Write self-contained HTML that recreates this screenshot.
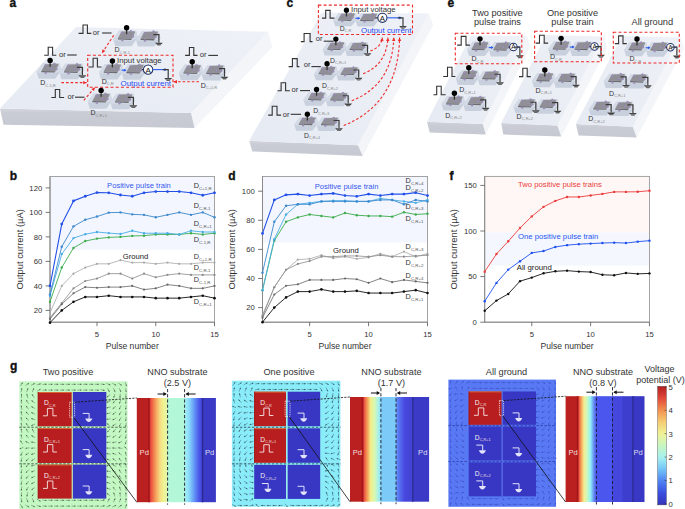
<!DOCTYPE html>
<html><head><meta charset="utf-8"><style>
html,body{margin:0;padding:0;background:#fff;}
body{width:685px;height:509px;overflow:hidden;}
svg{display:block;font-family:"Liberation Sans", sans-serif;}
</style></head><body>
<svg width="685" height="509" viewBox="0 0 685 509">
<rect x="50" y="176.5" width="164.5" height="73.26" fill="#f3f6fe"/>
<rect x="50" y="176.5" width="164.5" height="145.7" fill="none" stroke="#9a9a9a" stroke-width="0.9"/>
<line x1="50" y1="176.5" x2="50" y2="322.2" stroke="#8a8a8a" stroke-width="1"/>
<line x1="50" y1="322.2" x2="214.5" y2="322.2" stroke="#8a8a8a" stroke-width="1"/>
<line x1="45.6" y1="310.4" x2="50" y2="310.4" stroke="#555" stroke-width="0.8"/>
<text x="42.2" y="313.15" font-size="7.7" fill="#333" text-anchor="end">20</text>
<line x1="45.6" y1="285.9" x2="50" y2="285.9" stroke="#555" stroke-width="0.8"/>
<text x="42.2" y="288.65" font-size="7.7" fill="#333" text-anchor="end">40</text>
<line x1="45.6" y1="261.4" x2="50" y2="261.4" stroke="#555" stroke-width="0.8"/>
<text x="42.2" y="264.15" font-size="7.7" fill="#333" text-anchor="end">60</text>
<line x1="45.6" y1="236.9" x2="50" y2="236.9" stroke="#555" stroke-width="0.8"/>
<text x="42.2" y="239.65" font-size="7.7" fill="#333" text-anchor="end">80</text>
<line x1="45.6" y1="212.4" x2="50" y2="212.4" stroke="#555" stroke-width="0.8"/>
<text x="42.2" y="215.15" font-size="7.7" fill="#333" text-anchor="end">100</text>
<line x1="45.6" y1="187.9" x2="50" y2="187.9" stroke="#555" stroke-width="0.8"/>
<text x="42.2" y="190.65" font-size="7.7" fill="#333" text-anchor="end">120</text>
<line x1="97" y1="322.2" x2="97" y2="326.2" stroke="#555" stroke-width="0.8"/>
<text x="97" y="337.2" font-size="7.7" fill="#333" text-anchor="middle">5</text>
<line x1="155.75" y1="322.2" x2="155.75" y2="326.2" stroke="#555" stroke-width="0.8"/>
<text x="155.75" y="337.2" font-size="7.7" fill="#333" text-anchor="middle">10</text>
<line x1="214.5" y1="322.2" x2="214.5" y2="326.2" stroke="#555" stroke-width="0.8"/>
<text x="214.5" y="337.2" font-size="7.7" fill="#333" text-anchor="middle">15</text>
<polyline points="50,312.85 61.75,285.9 73.5,273.65 85.25,267.53 97,263.85 108.75,263.85 120.5,260.18 132.25,262.62 144,262.62 155.75,263.85 167.5,262.62 179.25,263.85 191,263.85 202.75,262.62 214.5,262.62" fill="none" stroke="#a8a8a8" stroke-width="0.8" stroke-linejoin="round"/>
<circle cx="50" cy="312.85" r="1.1" fill="#a8a8a8"/>
<circle cx="61.75" cy="285.9" r="1.1" fill="#a8a8a8"/>
<circle cx="73.5" cy="273.65" r="1.1" fill="#a8a8a8"/>
<circle cx="85.25" cy="267.53" r="1.1" fill="#a8a8a8"/>
<circle cx="97" cy="263.85" r="1.1" fill="#a8a8a8"/>
<circle cx="108.75" cy="263.85" r="1.1" fill="#a8a8a8"/>
<circle cx="120.5" cy="260.18" r="1.1" fill="#a8a8a8"/>
<circle cx="132.25" cy="262.62" r="1.1" fill="#a8a8a8"/>
<circle cx="144" cy="262.62" r="1.1" fill="#a8a8a8"/>
<circle cx="155.75" cy="263.85" r="1.1" fill="#a8a8a8"/>
<circle cx="167.5" cy="262.62" r="1.1" fill="#a8a8a8"/>
<circle cx="179.25" cy="263.85" r="1.1" fill="#a8a8a8"/>
<circle cx="191" cy="263.85" r="1.1" fill="#a8a8a8"/>
<circle cx="202.75" cy="262.62" r="1.1" fill="#a8a8a8"/>
<circle cx="214.5" cy="262.62" r="1.1" fill="#a8a8a8"/>
<polyline points="50,317.75 61.75,303.05 73.5,288.35 85.25,281 97,278.55 108.75,273.65 120.5,273.65 132.25,278.55 144,273.65 155.75,277.33 167.5,274.88 179.25,273.65 191,274.88 202.75,274.88 214.5,274.88" fill="none" stroke="#8a8a8a" stroke-width="0.8" stroke-linejoin="round"/>
<circle cx="50" cy="317.75" r="1.1" fill="#8a8a8a"/>
<circle cx="61.75" cy="303.05" r="1.1" fill="#8a8a8a"/>
<circle cx="73.5" cy="288.35" r="1.1" fill="#8a8a8a"/>
<circle cx="85.25" cy="281" r="1.1" fill="#8a8a8a"/>
<circle cx="97" cy="278.55" r="1.1" fill="#8a8a8a"/>
<circle cx="108.75" cy="273.65" r="1.1" fill="#8a8a8a"/>
<circle cx="120.5" cy="273.65" r="1.1" fill="#8a8a8a"/>
<circle cx="132.25" cy="278.55" r="1.1" fill="#8a8a8a"/>
<circle cx="144" cy="273.65" r="1.1" fill="#8a8a8a"/>
<circle cx="155.75" cy="277.33" r="1.1" fill="#8a8a8a"/>
<circle cx="167.5" cy="274.88" r="1.1" fill="#8a8a8a"/>
<circle cx="179.25" cy="273.65" r="1.1" fill="#8a8a8a"/>
<circle cx="191" cy="274.88" r="1.1" fill="#8a8a8a"/>
<circle cx="202.75" cy="274.88" r="1.1" fill="#8a8a8a"/>
<circle cx="214.5" cy="274.88" r="1.1" fill="#8a8a8a"/>
<polyline points="50,318.98 61.75,304.27 73.5,293.25 85.25,287.12 97,287.74 108.75,287.12 120.5,287.12 132.25,285.9 144,289.58 155.75,288.35 167.5,284.68 179.25,285.9 191,288.35 202.75,288.35 214.5,285.9" fill="none" stroke="#666" stroke-width="0.8" stroke-linejoin="round"/>
<circle cx="50" cy="318.98" r="1.1" fill="#666"/>
<circle cx="61.75" cy="304.27" r="1.1" fill="#666"/>
<circle cx="73.5" cy="293.25" r="1.1" fill="#666"/>
<circle cx="85.25" cy="287.12" r="1.1" fill="#666"/>
<circle cx="97" cy="287.74" r="1.1" fill="#666"/>
<circle cx="108.75" cy="287.12" r="1.1" fill="#666"/>
<circle cx="120.5" cy="287.12" r="1.1" fill="#666"/>
<circle cx="132.25" cy="285.9" r="1.1" fill="#666"/>
<circle cx="144" cy="289.58" r="1.1" fill="#666"/>
<circle cx="155.75" cy="288.35" r="1.1" fill="#666"/>
<circle cx="167.5" cy="284.68" r="1.1" fill="#666"/>
<circle cx="179.25" cy="285.9" r="1.1" fill="#666"/>
<circle cx="191" cy="288.35" r="1.1" fill="#666"/>
<circle cx="202.75" cy="288.35" r="1.1" fill="#666"/>
<circle cx="214.5" cy="285.9" r="1.1" fill="#666"/>
<polyline points="50,322.65 61.75,310.4 73.5,301.83 85.25,296.93 97,296.93 108.75,295.7 120.5,296.93 132.25,296.93 144,296.93 155.75,298.15 167.5,298.15 179.25,298.15 191,296.93 202.75,295.7 214.5,298.15" fill="none" stroke="#111" stroke-width="0.9" stroke-linejoin="round"/>
<circle cx="50" cy="322.65" r="1.3" fill="#111"/>
<circle cx="61.75" cy="310.4" r="1.3" fill="#111"/>
<circle cx="73.5" cy="301.83" r="1.3" fill="#111"/>
<circle cx="85.25" cy="296.93" r="1.3" fill="#111"/>
<circle cx="97" cy="296.93" r="1.3" fill="#111"/>
<circle cx="108.75" cy="295.7" r="1.3" fill="#111"/>
<circle cx="120.5" cy="296.93" r="1.3" fill="#111"/>
<circle cx="132.25" cy="296.93" r="1.3" fill="#111"/>
<circle cx="144" cy="296.93" r="1.3" fill="#111"/>
<circle cx="155.75" cy="298.15" r="1.3" fill="#111"/>
<circle cx="167.5" cy="298.15" r="1.3" fill="#111"/>
<circle cx="179.25" cy="298.15" r="1.3" fill="#111"/>
<circle cx="191" cy="296.93" r="1.3" fill="#111"/>
<circle cx="202.75" cy="295.7" r="1.3" fill="#111"/>
<circle cx="214.5" cy="298.15" r="1.3" fill="#111"/>
<polyline points="50,301.83 61.75,267.53 73.5,247.93 85.25,241.07 97,238.62 108.75,237.39 120.5,236.9 132.25,235.92 144,235.68 155.75,234.45 167.5,234.45 179.25,234.45 191,233.23 202.75,234.45 214.5,233.23" fill="none" stroke="#3cab4c" stroke-width="0.9" stroke-linejoin="round"/>
<circle cx="50" cy="301.83" r="1.2" fill="#3cab4c"/>
<circle cx="61.75" cy="267.53" r="1.2" fill="#3cab4c"/>
<circle cx="73.5" cy="247.93" r="1.2" fill="#3cab4c"/>
<circle cx="85.25" cy="241.07" r="1.2" fill="#3cab4c"/>
<circle cx="97" cy="238.62" r="1.2" fill="#3cab4c"/>
<circle cx="108.75" cy="237.39" r="1.2" fill="#3cab4c"/>
<circle cx="120.5" cy="236.9" r="1.2" fill="#3cab4c"/>
<circle cx="132.25" cy="235.92" r="1.2" fill="#3cab4c"/>
<circle cx="144" cy="235.68" r="1.2" fill="#3cab4c"/>
<circle cx="155.75" cy="234.45" r="1.2" fill="#3cab4c"/>
<circle cx="167.5" cy="234.45" r="1.2" fill="#3cab4c"/>
<circle cx="179.25" cy="234.45" r="1.2" fill="#3cab4c"/>
<circle cx="191" cy="233.23" r="1.2" fill="#3cab4c"/>
<circle cx="202.75" cy="234.45" r="1.2" fill="#3cab4c"/>
<circle cx="214.5" cy="233.23" r="1.2" fill="#3cab4c"/>
<polyline points="50,295.7 61.75,254.05 73.5,238.12 85.25,234.21 97,232 108.75,233.1 120.5,233.96 132.25,230.78 144,233.23 155.75,233.23 167.5,233.23 179.25,234.45 191,230.78 202.75,232 214.5,232" fill="none" stroke="#4aaee6" stroke-width="0.9" stroke-linejoin="round"/>
<circle cx="50" cy="295.7" r="1.2" fill="#4aaee6"/>
<circle cx="61.75" cy="254.05" r="1.2" fill="#4aaee6"/>
<circle cx="73.5" cy="238.12" r="1.2" fill="#4aaee6"/>
<circle cx="85.25" cy="234.21" r="1.2" fill="#4aaee6"/>
<circle cx="97" cy="232" r="1.2" fill="#4aaee6"/>
<circle cx="108.75" cy="233.1" r="1.2" fill="#4aaee6"/>
<circle cx="120.5" cy="233.96" r="1.2" fill="#4aaee6"/>
<circle cx="132.25" cy="230.78" r="1.2" fill="#4aaee6"/>
<circle cx="144" cy="233.23" r="1.2" fill="#4aaee6"/>
<circle cx="155.75" cy="233.23" r="1.2" fill="#4aaee6"/>
<circle cx="167.5" cy="233.23" r="1.2" fill="#4aaee6"/>
<circle cx="179.25" cy="234.45" r="1.2" fill="#4aaee6"/>
<circle cx="191" cy="230.78" r="1.2" fill="#4aaee6"/>
<circle cx="202.75" cy="232" r="1.2" fill="#4aaee6"/>
<circle cx="214.5" cy="232" r="1.2" fill="#4aaee6"/>
<polyline points="50,294.48 61.75,246.7 73.5,226.37 85.25,219.75 97,216.57 108.75,212.65 120.5,212.4 132.25,214.36 144,214.85 155.75,217.3 167.5,214.85 179.25,212.4 191,214.85 202.75,212.4 214.5,217.3" fill="none" stroke="#3b88cc" stroke-width="0.9" stroke-linejoin="round"/>
<circle cx="50" cy="294.48" r="1.2" fill="#3b88cc"/>
<circle cx="61.75" cy="246.7" r="1.2" fill="#3b88cc"/>
<circle cx="73.5" cy="226.37" r="1.2" fill="#3b88cc"/>
<circle cx="85.25" cy="219.75" r="1.2" fill="#3b88cc"/>
<circle cx="97" cy="216.57" r="1.2" fill="#3b88cc"/>
<circle cx="108.75" cy="212.65" r="1.2" fill="#3b88cc"/>
<circle cx="120.5" cy="212.4" r="1.2" fill="#3b88cc"/>
<circle cx="132.25" cy="214.36" r="1.2" fill="#3b88cc"/>
<circle cx="144" cy="214.85" r="1.2" fill="#3b88cc"/>
<circle cx="155.75" cy="217.3" r="1.2" fill="#3b88cc"/>
<circle cx="167.5" cy="214.85" r="1.2" fill="#3b88cc"/>
<circle cx="179.25" cy="212.4" r="1.2" fill="#3b88cc"/>
<circle cx="191" cy="214.85" r="1.2" fill="#3b88cc"/>
<circle cx="202.75" cy="212.4" r="1.2" fill="#3b88cc"/>
<circle cx="214.5" cy="217.3" r="1.2" fill="#3b88cc"/>
<polyline points="50,285.9 61.75,224.04 73.5,200.88 85.25,196.23 97,192.56 108.75,192.8 120.5,195 132.25,196.23 144,192.8 155.75,191.57 167.5,191.57 179.25,191.57 191,192.8 202.75,195.25 214.5,192.8" fill="none" stroke="#2250e8" stroke-width="1.1" stroke-linejoin="round"/>
<circle cx="50" cy="285.9" r="1.4" fill="#2250e8"/>
<circle cx="61.75" cy="224.04" r="1.4" fill="#2250e8"/>
<circle cx="73.5" cy="200.88" r="1.4" fill="#2250e8"/>
<circle cx="85.25" cy="196.23" r="1.4" fill="#2250e8"/>
<circle cx="97" cy="192.56" r="1.4" fill="#2250e8"/>
<circle cx="108.75" cy="192.8" r="1.4" fill="#2250e8"/>
<circle cx="120.5" cy="195" r="1.4" fill="#2250e8"/>
<circle cx="132.25" cy="196.23" r="1.4" fill="#2250e8"/>
<circle cx="144" cy="192.8" r="1.4" fill="#2250e8"/>
<circle cx="155.75" cy="191.57" r="1.4" fill="#2250e8"/>
<circle cx="167.5" cy="191.57" r="1.4" fill="#2250e8"/>
<circle cx="179.25" cy="191.57" r="1.4" fill="#2250e8"/>
<circle cx="191" cy="192.8" r="1.4" fill="#2250e8"/>
<circle cx="202.75" cy="195.25" r="1.4" fill="#2250e8"/>
<circle cx="214.5" cy="192.8" r="1.4" fill="#2250e8"/>
<text x="132.25" y="349" font-size="8.6" fill="#333" text-anchor="middle">Pulse number</text>
<text transform="translate(22.6,249.35) rotate(-90)" x="0" y="0" font-size="9.4" fill="#333" text-anchor="middle">Output current (µA)</text>
<rect x="262.5" y="176.5" width="165" height="66.06" fill="#f3f6fe"/>
<rect x="262.5" y="176.5" width="165" height="145.7" fill="none" stroke="#9a9a9a" stroke-width="0.9"/>
<line x1="262.5" y1="176.5" x2="262.5" y2="322.2" stroke="#8a8a8a" stroke-width="1"/>
<line x1="262.5" y1="322.2" x2="427.5" y2="322.2" stroke="#8a8a8a" stroke-width="1"/>
<line x1="258.1" y1="307.6" x2="262.5" y2="307.6" stroke="#555" stroke-width="0.8"/>
<text x="254.7" y="310.35" font-size="7.7" fill="#333" text-anchor="end">20</text>
<line x1="258.1" y1="278.5" x2="262.5" y2="278.5" stroke="#555" stroke-width="0.8"/>
<text x="254.7" y="281.25" font-size="7.7" fill="#333" text-anchor="end">40</text>
<line x1="258.1" y1="249.4" x2="262.5" y2="249.4" stroke="#555" stroke-width="0.8"/>
<text x="254.7" y="252.15" font-size="7.7" fill="#333" text-anchor="end">60</text>
<line x1="258.1" y1="220.3" x2="262.5" y2="220.3" stroke="#555" stroke-width="0.8"/>
<text x="254.7" y="223.05" font-size="7.7" fill="#333" text-anchor="end">80</text>
<line x1="258.1" y1="191.2" x2="262.5" y2="191.2" stroke="#555" stroke-width="0.8"/>
<text x="254.7" y="193.95" font-size="7.7" fill="#333" text-anchor="end">100</text>
<line x1="309.64" y1="322.2" x2="309.64" y2="326.2" stroke="#555" stroke-width="0.8"/>
<text x="309.64" y="337.2" font-size="7.7" fill="#333" text-anchor="middle">5</text>
<line x1="368.57" y1="322.2" x2="368.57" y2="326.2" stroke="#555" stroke-width="0.8"/>
<text x="368.57" y="337.2" font-size="7.7" fill="#333" text-anchor="middle">10</text>
<line x1="427.5" y1="322.2" x2="427.5" y2="326.2" stroke="#555" stroke-width="0.8"/>
<text x="427.5" y="337.2" font-size="7.7" fill="#333" text-anchor="middle">15</text>
<polyline points="262.5,314.88 274.29,287.23 286.07,269.77 297.86,259.58 309.64,258.86 321.43,255.22 333.22,258.13 345,256.68 356.79,258.86 368.57,257.4 380.36,253.76 392.15,256.68 403.93,251.58 415.72,256.68 427.5,253.76" fill="none" stroke="#a8a8a8" stroke-width="0.8" stroke-linejoin="round"/>
<circle cx="262.5" cy="314.88" r="1.1" fill="#a8a8a8"/>
<circle cx="274.29" cy="287.23" r="1.1" fill="#a8a8a8"/>
<circle cx="286.07" cy="269.77" r="1.1" fill="#a8a8a8"/>
<circle cx="297.86" cy="259.58" r="1.1" fill="#a8a8a8"/>
<circle cx="309.64" cy="258.86" r="1.1" fill="#a8a8a8"/>
<circle cx="321.43" cy="255.22" r="1.1" fill="#a8a8a8"/>
<circle cx="333.22" cy="258.13" r="1.1" fill="#a8a8a8"/>
<circle cx="345" cy="256.68" r="1.1" fill="#a8a8a8"/>
<circle cx="356.79" cy="258.86" r="1.1" fill="#a8a8a8"/>
<circle cx="368.57" cy="257.4" r="1.1" fill="#a8a8a8"/>
<circle cx="380.36" cy="253.76" r="1.1" fill="#a8a8a8"/>
<circle cx="392.15" cy="256.68" r="1.1" fill="#a8a8a8"/>
<circle cx="403.93" cy="251.58" r="1.1" fill="#a8a8a8"/>
<circle cx="415.72" cy="256.68" r="1.1" fill="#a8a8a8"/>
<circle cx="427.5" cy="253.76" r="1.1" fill="#a8a8a8"/>
<polyline points="262.5,316.33 274.29,287.23 286.07,269.77 297.86,263.95 309.64,261.04 321.43,256.68 333.22,256.68 345,255.95 356.79,255.95 368.57,256.68 380.36,255.22 392.15,256.68 403.93,256.68 415.72,255.95 427.5,255.22" fill="none" stroke="#8a8a8a" stroke-width="0.8" stroke-linejoin="round"/>
<circle cx="262.5" cy="316.33" r="1.1" fill="#8a8a8a"/>
<circle cx="274.29" cy="287.23" r="1.1" fill="#8a8a8a"/>
<circle cx="286.07" cy="269.77" r="1.1" fill="#8a8a8a"/>
<circle cx="297.86" cy="263.95" r="1.1" fill="#8a8a8a"/>
<circle cx="309.64" cy="261.04" r="1.1" fill="#8a8a8a"/>
<circle cx="321.43" cy="256.68" r="1.1" fill="#8a8a8a"/>
<circle cx="333.22" cy="256.68" r="1.1" fill="#8a8a8a"/>
<circle cx="345" cy="255.95" r="1.1" fill="#8a8a8a"/>
<circle cx="356.79" cy="255.95" r="1.1" fill="#8a8a8a"/>
<circle cx="368.57" cy="256.68" r="1.1" fill="#8a8a8a"/>
<circle cx="380.36" cy="255.22" r="1.1" fill="#8a8a8a"/>
<circle cx="392.15" cy="256.68" r="1.1" fill="#8a8a8a"/>
<circle cx="403.93" cy="256.68" r="1.1" fill="#8a8a8a"/>
<circle cx="415.72" cy="255.95" r="1.1" fill="#8a8a8a"/>
<circle cx="427.5" cy="255.22" r="1.1" fill="#8a8a8a"/>
<polyline points="262.5,317.78 274.29,294.5 286.07,285.77 297.86,284.32 309.64,279.95 321.43,279.95 333.22,279.95 345,278.5 356.79,279.23 368.57,282.87 380.36,278.5 392.15,282.14 403.93,279.95 415.72,281.41 427.5,282.87" fill="none" stroke="#666" stroke-width="0.8" stroke-linejoin="round"/>
<circle cx="262.5" cy="317.78" r="1.1" fill="#666"/>
<circle cx="274.29" cy="294.5" r="1.1" fill="#666"/>
<circle cx="286.07" cy="285.77" r="1.1" fill="#666"/>
<circle cx="297.86" cy="284.32" r="1.1" fill="#666"/>
<circle cx="309.64" cy="279.95" r="1.1" fill="#666"/>
<circle cx="321.43" cy="279.95" r="1.1" fill="#666"/>
<circle cx="333.22" cy="279.95" r="1.1" fill="#666"/>
<circle cx="345" cy="278.5" r="1.1" fill="#666"/>
<circle cx="356.79" cy="279.23" r="1.1" fill="#666"/>
<circle cx="368.57" cy="282.87" r="1.1" fill="#666"/>
<circle cx="380.36" cy="278.5" r="1.1" fill="#666"/>
<circle cx="392.15" cy="282.14" r="1.1" fill="#666"/>
<circle cx="403.93" cy="279.95" r="1.1" fill="#666"/>
<circle cx="415.72" cy="281.41" r="1.1" fill="#666"/>
<circle cx="427.5" cy="282.87" r="1.1" fill="#666"/>
<polyline points="262.5,322.15 274.29,307.6 286.07,297.41 297.86,291.6 309.64,291.6 321.43,289.41 333.22,291.6 345,291.6 356.79,290.87 368.57,293.05 380.36,293.05 392.15,293.05 403.93,291.6 415.72,290.14 427.5,293.05" fill="none" stroke="#111" stroke-width="0.9" stroke-linejoin="round"/>
<circle cx="262.5" cy="322.15" r="1.3" fill="#111"/>
<circle cx="274.29" cy="307.6" r="1.3" fill="#111"/>
<circle cx="286.07" cy="297.41" r="1.3" fill="#111"/>
<circle cx="297.86" cy="291.6" r="1.3" fill="#111"/>
<circle cx="309.64" cy="291.6" r="1.3" fill="#111"/>
<circle cx="321.43" cy="289.41" r="1.3" fill="#111"/>
<circle cx="333.22" cy="291.6" r="1.3" fill="#111"/>
<circle cx="345" cy="291.6" r="1.3" fill="#111"/>
<circle cx="356.79" cy="290.87" r="1.3" fill="#111"/>
<circle cx="368.57" cy="293.05" r="1.3" fill="#111"/>
<circle cx="380.36" cy="293.05" r="1.3" fill="#111"/>
<circle cx="392.15" cy="293.05" r="1.3" fill="#111"/>
<circle cx="403.93" cy="291.6" r="1.3" fill="#111"/>
<circle cx="415.72" cy="290.14" r="1.3" fill="#111"/>
<circle cx="427.5" cy="293.05" r="1.3" fill="#111"/>
<polyline points="262.5,290.14 274.29,240.67 286.07,221.75 297.86,217.39 309.64,214.48 321.43,215.94 333.22,217.39 345,213.02 356.79,215.21 368.57,215.94 380.36,215.94 392.15,216.66 403.93,212.3 415.72,214.48 427.5,213.75" fill="none" stroke="#3cab4c" stroke-width="0.9" stroke-linejoin="round"/>
<circle cx="262.5" cy="290.14" r="1.2" fill="#3cab4c"/>
<circle cx="274.29" cy="240.67" r="1.2" fill="#3cab4c"/>
<circle cx="286.07" cy="221.75" r="1.2" fill="#3cab4c"/>
<circle cx="297.86" cy="217.39" r="1.2" fill="#3cab4c"/>
<circle cx="309.64" cy="214.48" r="1.2" fill="#3cab4c"/>
<circle cx="321.43" cy="215.94" r="1.2" fill="#3cab4c"/>
<circle cx="333.22" cy="217.39" r="1.2" fill="#3cab4c"/>
<circle cx="345" cy="213.02" r="1.2" fill="#3cab4c"/>
<circle cx="356.79" cy="215.21" r="1.2" fill="#3cab4c"/>
<circle cx="368.57" cy="215.94" r="1.2" fill="#3cab4c"/>
<circle cx="380.36" cy="215.94" r="1.2" fill="#3cab4c"/>
<circle cx="392.15" cy="216.66" r="1.2" fill="#3cab4c"/>
<circle cx="403.93" cy="212.3" r="1.2" fill="#3cab4c"/>
<circle cx="415.72" cy="214.48" r="1.2" fill="#3cab4c"/>
<circle cx="427.5" cy="213.75" r="1.2" fill="#3cab4c"/>
<polyline points="262.5,290.14 274.29,239.21 286.07,214.48 297.86,204.29 309.64,202.84 321.43,201.38 333.22,200.66 345,200.66 356.79,201.38 368.57,201.38 380.36,198.47 392.15,199.93 403.93,201.38 415.72,202.84 427.5,199.93" fill="none" stroke="#4aaee6" stroke-width="0.9" stroke-linejoin="round"/>
<circle cx="262.5" cy="290.14" r="1.2" fill="#4aaee6"/>
<circle cx="274.29" cy="239.21" r="1.2" fill="#4aaee6"/>
<circle cx="286.07" cy="214.48" r="1.2" fill="#4aaee6"/>
<circle cx="297.86" cy="204.29" r="1.2" fill="#4aaee6"/>
<circle cx="309.64" cy="202.84" r="1.2" fill="#4aaee6"/>
<circle cx="321.43" cy="201.38" r="1.2" fill="#4aaee6"/>
<circle cx="333.22" cy="200.66" r="1.2" fill="#4aaee6"/>
<circle cx="345" cy="200.66" r="1.2" fill="#4aaee6"/>
<circle cx="356.79" cy="201.38" r="1.2" fill="#4aaee6"/>
<circle cx="368.57" cy="201.38" r="1.2" fill="#4aaee6"/>
<circle cx="380.36" cy="198.47" r="1.2" fill="#4aaee6"/>
<circle cx="392.15" cy="199.93" r="1.2" fill="#4aaee6"/>
<circle cx="403.93" cy="201.38" r="1.2" fill="#4aaee6"/>
<circle cx="415.72" cy="202.84" r="1.2" fill="#4aaee6"/>
<circle cx="427.5" cy="199.93" r="1.2" fill="#4aaee6"/>
<polyline points="262.5,272.68 274.29,221.75 286.07,205.75 297.86,204.29 309.64,204.29 321.43,201.38 333.22,201.38 345,201.38 356.79,201.38 368.57,201.38 380.36,199.93 392.15,199.93 403.93,204.29 415.72,199.93 427.5,201.38" fill="none" stroke="#3b88cc" stroke-width="0.9" stroke-linejoin="round"/>
<circle cx="262.5" cy="272.68" r="1.2" fill="#3b88cc"/>
<circle cx="274.29" cy="221.75" r="1.2" fill="#3b88cc"/>
<circle cx="286.07" cy="205.75" r="1.2" fill="#3b88cc"/>
<circle cx="297.86" cy="204.29" r="1.2" fill="#3b88cc"/>
<circle cx="309.64" cy="204.29" r="1.2" fill="#3b88cc"/>
<circle cx="321.43" cy="201.38" r="1.2" fill="#3b88cc"/>
<circle cx="333.22" cy="201.38" r="1.2" fill="#3b88cc"/>
<circle cx="345" cy="201.38" r="1.2" fill="#3b88cc"/>
<circle cx="356.79" cy="201.38" r="1.2" fill="#3b88cc"/>
<circle cx="368.57" cy="201.38" r="1.2" fill="#3b88cc"/>
<circle cx="380.36" cy="199.93" r="1.2" fill="#3b88cc"/>
<circle cx="392.15" cy="199.93" r="1.2" fill="#3b88cc"/>
<circle cx="403.93" cy="204.29" r="1.2" fill="#3b88cc"/>
<circle cx="415.72" cy="199.93" r="1.2" fill="#3b88cc"/>
<circle cx="427.5" cy="201.38" r="1.2" fill="#3b88cc"/>
<polyline points="262.5,233.39 274.29,199.93 286.07,194.84 297.86,194.11 309.64,195.56 321.43,194.11 333.22,193.38 345,195.56 356.79,196.29 368.57,194.11 380.36,195.56 392.15,194.11 403.93,194.11 415.72,192.66 427.5,195.56" fill="none" stroke="#2250e8" stroke-width="1.1" stroke-linejoin="round"/>
<circle cx="262.5" cy="233.39" r="1.4" fill="#2250e8"/>
<circle cx="274.29" cy="199.93" r="1.4" fill="#2250e8"/>
<circle cx="286.07" cy="194.84" r="1.4" fill="#2250e8"/>
<circle cx="297.86" cy="194.11" r="1.4" fill="#2250e8"/>
<circle cx="309.64" cy="195.56" r="1.4" fill="#2250e8"/>
<circle cx="321.43" cy="194.11" r="1.4" fill="#2250e8"/>
<circle cx="333.22" cy="193.38" r="1.4" fill="#2250e8"/>
<circle cx="345" cy="195.56" r="1.4" fill="#2250e8"/>
<circle cx="356.79" cy="196.29" r="1.4" fill="#2250e8"/>
<circle cx="368.57" cy="194.11" r="1.4" fill="#2250e8"/>
<circle cx="380.36" cy="195.56" r="1.4" fill="#2250e8"/>
<circle cx="392.15" cy="194.11" r="1.4" fill="#2250e8"/>
<circle cx="403.93" cy="194.11" r="1.4" fill="#2250e8"/>
<circle cx="415.72" cy="192.66" r="1.4" fill="#2250e8"/>
<circle cx="427.5" cy="195.56" r="1.4" fill="#2250e8"/>
<text x="345" y="349" font-size="8.6" fill="#333" text-anchor="middle">Pulse number</text>
<text transform="translate(235.4,249.35) rotate(-90)" x="0" y="0" font-size="9.4" fill="#333" text-anchor="middle">Output current (µA)</text>
<rect x="484.7" y="232.28" width="164.8" height="33.38" fill="#f4f7fe"/>
<rect x="484.7" y="176.4" width="164.8" height="55.88" fill="#fef7f6"/>
<rect x="484.7" y="176.4" width="164.8" height="145.8" fill="none" stroke="#9a9a9a" stroke-width="0.9"/>
<line x1="484.7" y1="176.4" x2="484.7" y2="322.2" stroke="#8a8a8a" stroke-width="1"/>
<line x1="484.7" y1="322.2" x2="649.5" y2="322.2" stroke="#8a8a8a" stroke-width="1"/>
<line x1="480.3" y1="322.2" x2="484.7" y2="322.2" stroke="#555" stroke-width="0.8"/>
<text x="476.9" y="324.95" font-size="7.7" fill="#333" text-anchor="end">0</text>
<line x1="480.3" y1="276.6" x2="484.7" y2="276.6" stroke="#555" stroke-width="0.8"/>
<text x="476.9" y="279.35" font-size="7.7" fill="#333" text-anchor="end">50</text>
<line x1="480.3" y1="231" x2="484.7" y2="231" stroke="#555" stroke-width="0.8"/>
<text x="476.9" y="233.75" font-size="7.7" fill="#333" text-anchor="end">100</text>
<line x1="480.3" y1="185.4" x2="484.7" y2="185.4" stroke="#555" stroke-width="0.8"/>
<text x="476.9" y="188.15" font-size="7.7" fill="#333" text-anchor="end">150</text>
<line x1="531.78" y1="322.2" x2="531.78" y2="326.2" stroke="#555" stroke-width="0.8"/>
<text x="531.78" y="337.2" font-size="7.7" fill="#333" text-anchor="middle">5</text>
<line x1="590.63" y1="322.2" x2="590.63" y2="326.2" stroke="#555" stroke-width="0.8"/>
<text x="590.63" y="337.2" font-size="7.7" fill="#333" text-anchor="middle">10</text>
<line x1="649.48" y1="322.2" x2="649.48" y2="326.2" stroke="#555" stroke-width="0.8"/>
<text x="649.48" y="337.2" font-size="7.7" fill="#333" text-anchor="middle">15</text>
<polyline points="484.7,310.8 496.47,300.59 508.24,293.93 520.01,281.16 531.78,277.6 543.55,273.32 555.32,271.31 567.09,270.67 578.86,271.58 590.63,272.04 602.4,274.78 614.17,275.23 625.94,272.95 637.71,273.86 649.48,273.41" fill="none" stroke="#111" stroke-width="0.9" stroke-linejoin="round"/>
<circle cx="484.7" cy="310.8" r="1.2" fill="#111"/>
<circle cx="496.47" cy="300.59" r="1.2" fill="#111"/>
<circle cx="508.24" cy="293.93" r="1.2" fill="#111"/>
<circle cx="520.01" cy="281.16" r="1.2" fill="#111"/>
<circle cx="531.78" cy="277.6" r="1.2" fill="#111"/>
<circle cx="543.55" cy="273.32" r="1.2" fill="#111"/>
<circle cx="555.32" cy="271.31" r="1.2" fill="#111"/>
<circle cx="567.09" cy="270.67" r="1.2" fill="#111"/>
<circle cx="578.86" cy="271.58" r="1.2" fill="#111"/>
<circle cx="590.63" cy="272.04" r="1.2" fill="#111"/>
<circle cx="602.4" cy="274.78" r="1.2" fill="#111"/>
<circle cx="614.17" cy="275.23" r="1.2" fill="#111"/>
<circle cx="625.94" cy="272.95" r="1.2" fill="#111"/>
<circle cx="637.71" cy="273.86" r="1.2" fill="#111"/>
<circle cx="649.48" cy="273.41" r="1.2" fill="#111"/>
<polyline points="484.7,301.22 496.47,282.89 508.24,269.67 520.01,261.28 531.78,252.89 543.55,251.06 555.32,246.96 567.09,245.14 578.86,244.13 590.63,243.59 602.4,243.04 614.17,242.67 625.94,243.04 637.71,241.67 649.48,240.67" fill="none" stroke="#1e4ff0" stroke-width="0.9" stroke-linejoin="round"/>
<circle cx="484.7" cy="301.22" r="1.2" fill="#1e4ff0"/>
<circle cx="496.47" cy="282.89" r="1.2" fill="#1e4ff0"/>
<circle cx="508.24" cy="269.67" r="1.2" fill="#1e4ff0"/>
<circle cx="520.01" cy="261.28" r="1.2" fill="#1e4ff0"/>
<circle cx="531.78" cy="252.89" r="1.2" fill="#1e4ff0"/>
<circle cx="543.55" cy="251.06" r="1.2" fill="#1e4ff0"/>
<circle cx="555.32" cy="246.96" r="1.2" fill="#1e4ff0"/>
<circle cx="567.09" cy="245.14" r="1.2" fill="#1e4ff0"/>
<circle cx="578.86" cy="244.13" r="1.2" fill="#1e4ff0"/>
<circle cx="590.63" cy="243.59" r="1.2" fill="#1e4ff0"/>
<circle cx="602.4" cy="243.04" r="1.2" fill="#1e4ff0"/>
<circle cx="614.17" cy="242.67" r="1.2" fill="#1e4ff0"/>
<circle cx="625.94" cy="243.04" r="1.2" fill="#1e4ff0"/>
<circle cx="637.71" cy="241.67" r="1.2" fill="#1e4ff0"/>
<circle cx="649.48" cy="240.67" r="1.2" fill="#1e4ff0"/>
<polyline points="484.7,271.68 496.47,253.98 508.24,241.31 520.01,227.99 531.78,216.41 543.55,206.83 555.32,200.9 567.09,196.98 578.86,196.98 590.63,195.43 602.4,193.88 614.17,191.88 625.94,191.88 637.71,191.78 649.48,190.69" fill="none" stroke="#ec3b3b" stroke-width="0.9" stroke-linejoin="round"/>
<circle cx="484.7" cy="271.68" r="1.2" fill="#ec3b3b"/>
<circle cx="496.47" cy="253.98" r="1.2" fill="#ec3b3b"/>
<circle cx="508.24" cy="241.31" r="1.2" fill="#ec3b3b"/>
<circle cx="520.01" cy="227.99" r="1.2" fill="#ec3b3b"/>
<circle cx="531.78" cy="216.41" r="1.2" fill="#ec3b3b"/>
<circle cx="543.55" cy="206.83" r="1.2" fill="#ec3b3b"/>
<circle cx="555.32" cy="200.9" r="1.2" fill="#ec3b3b"/>
<circle cx="567.09" cy="196.98" r="1.2" fill="#ec3b3b"/>
<circle cx="578.86" cy="196.98" r="1.2" fill="#ec3b3b"/>
<circle cx="590.63" cy="195.43" r="1.2" fill="#ec3b3b"/>
<circle cx="602.4" cy="193.88" r="1.2" fill="#ec3b3b"/>
<circle cx="614.17" cy="191.88" r="1.2" fill="#ec3b3b"/>
<circle cx="625.94" cy="191.88" r="1.2" fill="#ec3b3b"/>
<circle cx="637.71" cy="191.78" r="1.2" fill="#ec3b3b"/>
<circle cx="649.48" cy="190.69" r="1.2" fill="#ec3b3b"/>
<text x="567.1" y="349" font-size="8.6" fill="#333" text-anchor="middle">Pulse number</text>
<text transform="translate(456.5,249.3) rotate(-90)" x="0" y="0" font-size="9.4" fill="#333" text-anchor="middle">Output current (µA)</text>
<text x="107.1" y="188.3" font-size="7.6" fill="#3556ee">Positive pulse train</text>
<text x="122.7" y="259" font-size="7.7" fill="#222">Ground</text>
<text x="193.8" y="188.2" font-size="7.3" fill="#333">D<tspan font-size="4.4" dy="1.7" fill="#555">C+1,R</tspan></text>
<text x="193.8" y="208" font-size="7.3" fill="#333">D<tspan font-size="4.4" dy="1.7" fill="#555">C,R-1</tspan></text>
<text x="193.8" y="226.2" font-size="7.3" fill="#333">D<tspan font-size="4.4" dy="1.7" fill="#555">C,R+1</tspan></text>
<text x="193.8" y="242.2" font-size="7.3" fill="#333">D<tspan font-size="4.4" dy="1.7" fill="#555">C-1,R</tspan></text>
<text x="193.8" y="258.9" font-size="7.3" fill="#333">D<tspan font-size="4.4" dy="1.7" fill="#555">C+1,R</tspan></text>
<text x="193.8" y="270.3" font-size="7.3" fill="#333">D<tspan font-size="4.4" dy="1.7" fill="#555">C,R-1</tspan></text>
<text x="193.8" y="282" font-size="7.3" fill="#333">D<tspan font-size="4.4" dy="1.7" fill="#555">C-1,R</tspan></text>
<text x="193.8" y="303.9" font-size="7.3" fill="#333">D<tspan font-size="4.4" dy="1.7" fill="#555">C,R+1</tspan></text>
<text x="314.7" y="188.5" font-size="7.6" fill="#3556ee">Positive pulse train</text>
<text x="333.1" y="253" font-size="7.7" fill="#222">Ground</text>
<text x="405.6" y="182.9" font-size="7.3" fill="#333">D<tspan font-size="4.4" dy="1.7" fill="#555">C,R+4</tspan></text>
<text x="405.6" y="190" font-size="7.3" fill="#333">D<tspan font-size="4.4" dy="1.7" fill="#555">C,R+2</tspan></text>
<text x="405.6" y="208.7" font-size="7.3" fill="#333">D<tspan font-size="4.4" dy="1.7" fill="#555">C,R+3</tspan></text>
<text x="405.6" y="221.1" font-size="7.3" fill="#333">D<tspan font-size="4.4" dy="1.7" fill="#555">C,R+1</tspan></text>
<text x="405.6" y="249" font-size="7.3" fill="#333">D<tspan font-size="4.4" dy="1.7" fill="#555">C,R+3</tspan></text>
<text x="405.6" y="264.9" font-size="7.3" fill="#333">D<tspan font-size="4.4" dy="1.7" fill="#555">C,R+2</tspan></text>
<text x="405.6" y="278.4" font-size="7.3" fill="#333">D<tspan font-size="4.4" dy="1.7" fill="#555">C,R+4</tspan></text>
<text x="405.6" y="298.9" font-size="7.3" fill="#333">D<tspan font-size="4.4" dy="1.7" fill="#555">C,R+1</tspan></text>
<text x="518" y="186.6" font-size="7.7" fill="#ec3b3b">Two positive pulse trains</text>
<text x="518" y="239.2" font-size="7.7" fill="#2a55f0">One positive pulse train</text>
<text x="516.7" y="270.1" font-size="7.8" fill="#222">All ground</text>
<text x="9.8" y="179.8" font-size="12" font-weight="bold" fill="#111" stroke="#111" stroke-width="0.35">b</text>
<text x="228.3" y="180" font-size="12" font-weight="bold" fill="#111" stroke="#111" stroke-width="0.35">d</text>
<text x="449.6" y="179.7" font-size="12" font-weight="bold" fill="#111" stroke="#111" stroke-width="0.35">f</text>
<defs>
<linearGradient id="topg" x1="0" y1="1" x2="1" y2="0"><stop offset="0" stop-color="#e6eaf2"/><stop offset="1" stop-color="#eef1f7"/></linearGradient>
<linearGradient id="frontg" x1="0" y1="0" x2="0" y2="1"><stop offset="0" stop-color="#d2d5dc"/><stop offset="0.25" stop-color="#c9ccd4"/><stop offset="1" stop-color="#c6c9d1"/></linearGradient>
<g id="dev">
<polygon points="-5.9,8.3 0,0 17,0 18.6,7 12.6,15.4 -3.9,15.4" fill="#c8d0de"/>
<polygon points="-5.9,8.3 0,0 17,0 18.6,7 12.9,9.6 -5.2,9.6" fill="#d4dbe7"/>
<polygon points="-1.2,7.5 2.4,0.8 15.8,0.4 12.2,7.9" fill="#909096"/>
<polygon points="-1.2,7.5 12.2,7.9 12.2,9.2 -1.2,8.8" fill="#6c6c72"/>
<polygon points="12.2,7.9 15.8,0.4 15.8,1.7 12.2,9.2" fill="#78787e"/>
<g fill="#a293bd" stroke="#85789e" stroke-width="0.25">
<circle cx="3.2" cy="2.4" r="1.15"/><circle cx="11.8" cy="0.5" r="1.15"/><circle cx="9.1" cy="5.1" r="1.15"/>
<circle cx="13.8" cy="5.6" r="1.15"/><circle cx="3.2" cy="9.4" r="1.15"/></g>
</g>
<g id="gnd"><path d="M0,0 H5.5 V8" fill="none" stroke="#3a3a3a" stroke-width="1.2"/>
<path d="M1.6,8 H9.4 L8.2,9.4 H2.8 Z" fill="#454545"/><path d="M3,9.4 H8 L7,10.8 H4 Z" fill="#666"/></g>
<g id="pin"><line x1="0" y1="0" x2="0" y2="6.4" stroke="#333" stroke-width="1.3"/><circle cx="0" cy="0" r="2.7" fill="#000"/></g>
</defs>
<polygon points="191,113 268.3,31.8 272.5,47 194.5,128" fill="#f3f5f9"/>
<polygon points="0,108.5 191,113 194.5,128 3.5,124.7" fill="url(#frontg)"/>
<polygon points="0,108.5 191,113 268.3,31.8 76,27" fill="url(#topg)"/>
<polygon points="358,145.3 429,13.5 433.2,25 362.6,156" fill="#f3f5f9"/>
<polygon points="249.2,140.7 358,145.3 362.6,156 252.3,151.4" fill="url(#frontg)"/>
<polygon points="249.2,140.7 358,145.3 429,13.5 321.5,12.5" fill="url(#topg)"/>
<polygon points="482.7,124 527,36 530.5,46.5 485.8,134.5" fill="#f3f5f9"/>
<polygon points="427,121.7 482.7,124 485.8,134.5 429.7,132.6" fill="url(#frontg)"/>
<polygon points="427,121.7 482.7,124 527,36 471,35.5" fill="url(#topg)"/>
<polygon points="557.3,125.6 603.8,36.5 607.3,47.5 561.2,136.4" fill="#f3f5f9"/>
<polygon points="501.2,122.9 557.3,125.6 561.2,136.4 503.2,134.5" fill="url(#frontg)"/>
<polygon points="501.2,122.9 557.3,125.6 603.8,36.5 546,35" fill="url(#topg)"/>
<polygon points="632.8,126.8 680.5,37.5 684,48.5 636.6,137.6" fill="#f3f5f9"/>
<polygon points="575.9,124 632.8,126.8 636.6,137.6 578.6,135.6" fill="url(#frontg)"/>
<polygon points="575.9,124 632.8,126.8 680.5,37.5 622,36" fill="url(#topg)"/>
<text x="9.6" y="6.7" font-size="12" font-weight="bold" fill="#111" stroke="#111" stroke-width="0.35">a</text>
<use href="#dev" transform="translate(119.1,30.8) scale(1,1)"/><use href="#dev" transform="translate(141.8,31.2) scale(1,1)"/><use href="#pin" transform="translate(126.6,27.8) scale(1)"/><use href="#gnd" transform="translate(153.4,34.7) scale(1)"/>
<path d="M78.6,33.4 H83 V25 H87.4 V33.4 H91.3" fill="none" stroke="#333" stroke-width="1.1"/><text x="92.8" y="35.1" font-size="7.6" fill="#333">or</text><line x1="102.1" y1="33" x2="111.6" y2="33" stroke="#333" stroke-width="1.1"/>
<text x="114.5" y="52.43" font-size="7" fill="#333">D<tspan font-size="3.99" dy="1.4" fill="#8a8a8a">C,R-1</tspan></text>
<path d="M113.8,35.2 L102.1,53" fill="none" stroke="#ee2a2a" stroke-width="1.1" stroke-dasharray="2.6,2"/><path d="M102.1,53 L102.55,49.23 L105.39,51.09Z" fill="#ee2a2a"/>
<use href="#dev" transform="translate(42.6,63.4) scale(1,1)"/><use href="#dev" transform="translate(65.3,63.8) scale(1,1)"/><use href="#pin" transform="translate(50.1,60.4) scale(1)"/><use href="#gnd" transform="translate(76.9,67.3) scale(1)"/>
<path d="M44.2,55.3 H48.2 V47.3 H52.6 V55.3 H56.3" fill="none" stroke="#333" stroke-width="1.1"/><text x="59" y="57.1" font-size="7.6" fill="#333">or</text><line x1="67.2" y1="55" x2="76.7" y2="55" stroke="#333" stroke-width="1.1"/>
<text x="40.2" y="85.13" font-size="7" fill="#333">D<tspan font-size="3.99" dy="1.4" fill="#8a8a8a">C-1,R</tspan></text>
<path d="M61.4,82.6 L86.6,82.6" fill="none" stroke="#ee2a2a" stroke-width="1.1" stroke-dasharray="2.6,2"/><path d="M86.6,82.6 L83.2,84.3 L83.2,80.9Z" fill="#ee2a2a"/>
<use href="#dev" transform="translate(104.9,64) scale(1,1)"/><use href="#dev" transform="translate(127.6,64.4) scale(1,1)"/><use href="#pin" transform="translate(112.4,61) scale(1)"/><path d="M121.5,70.2 H125.5" stroke="#2a5cf0" stroke-width="1.1"/><path d="M126.5,70.2 l-2.6,-1.5 v3z" fill="#2a5cf0"/><circle cx="148.1" cy="69.6" r="4.7" fill="#fff" stroke="#1f2f66" stroke-width="1.05"/><text x="148.1" y="72.5" font-size="8" text-anchor="middle" fill="#111">A</text><line x1="141.9" y1="69.6" x2="143.4" y2="69.6" stroke="#333" stroke-width="1.1"/><path d="M152.8,69.6 H165.7" stroke="#2a5cf0" stroke-width="1.1"/><path d="M167.2,69.6 l-2.8,-1.6 v3.2z" fill="#2a5cf0"/><use href="#gnd" transform="translate(162.7,69.6) scale(1,1.05)"/>
<path d="M88.4,67 H93.1 V58.2 H97.4 V67 H101.5" fill="none" stroke="#333" stroke-width="1.1"/>
<text x="117" y="62.7" font-size="7.8" fill="#333">Input voltage</text>
<text x="120.6" y="85.7" font-size="7.9" fill="#2a4cf0">Output current</text>
<text x="101.8" y="83.63" font-size="7" fill="#333">D<tspan font-size="3.99" dy="1.4" fill="#8a8a8a">C,R</tspan></text>
<rect x="87.7" y="55.3" width="85.3" height="32" fill="none" stroke="#ee2a2a" stroke-width="1.1" stroke-dasharray="3,2.2"/>
<use href="#dev" transform="translate(184.7,64.8) scale(1,1)"/><use href="#dev" transform="translate(207.4,65.2) scale(1,1)"/><use href="#pin" transform="translate(192.2,61.8) scale(1)"/><use href="#gnd" transform="translate(219,68.7) scale(1)"/>
<path d="M185.1,55.4 H189.4 V47.5 H193.8 V55.4 H197.5" fill="none" stroke="#333" stroke-width="1.1"/><text x="199.8" y="57.3" font-size="7.6" fill="#333">or</text><line x1="208.3" y1="55.4" x2="218" y2="55.4" stroke="#333" stroke-width="1.1"/>
<text x="200.7" y="87.63" font-size="7" fill="#333">D<tspan font-size="3.99" dy="1.4" fill="#8a8a8a">C+1,R</tspan></text>
<path d="M199,81.8 L173.6,81.8" fill="none" stroke="#ee2a2a" stroke-width="1.1" stroke-dasharray="2.6,2"/><path d="M173.6,81.8 L177,80.1 L177,83.5Z" fill="#ee2a2a"/>
<use href="#dev" transform="translate(93.6,93.4) scale(1,1)"/><use href="#dev" transform="translate(116.3,93.8) scale(1,1)"/><use href="#pin" transform="translate(101.1,90.4) scale(1)"/><use href="#gnd" transform="translate(127.9,97.3) scale(1)"/>
<path d="M51.4,97.5 H55.3 V89.5 H59.7 V97.5 H64.1" fill="none" stroke="#333" stroke-width="1.1"/><text x="67.5" y="98.5" font-size="7.6" fill="#333">or</text><line x1="75" y1="97.2" x2="84.5" y2="97.2" stroke="#333" stroke-width="1.1"/>
<text x="90.4" y="115.33" font-size="7" fill="#333">D<tspan font-size="3.99" dy="1.4" fill="#8a8a8a">C,R+1</tspan></text>
<path d="M83.8,100.4 L94.9,87.4" fill="none" stroke="#ee2a2a" stroke-width="1.1" stroke-dasharray="2.6,2"/><path d="M94.9,87.4 L93.99,91.09 L91.4,88.88Z" fill="#ee2a2a"/>
<text x="286.6" y="6.5" font-size="12" font-weight="bold" fill="#111" stroke="#111" stroke-width="0.35">c</text>
<use href="#dev" transform="translate(339.1,13) scale(0.98,0.86)"/><use href="#dev" transform="translate(361.35,13.34) scale(0.98,0.86)"/><use href="#pin" transform="translate(346.45,10.13) scale(0.97)"/><path d="M355.37,18.33 H359.27" stroke="#2a5cf0" stroke-width="1.1"/><path d="M360.27,18.33 l-2.6,-1.5 v3z" fill="#2a5cf0"/><circle cx="382.42" cy="17.82" r="4.56" fill="#fff" stroke="#1f2f66" stroke-width="1.05"/><text x="382.42" y="20.63" font-size="7.76" text-anchor="middle" fill="#111">A</text><line x1="375.36" y1="17.82" x2="377.86" y2="17.82" stroke="#333" stroke-width="1.1"/><path d="M386.98,17.82 H400.5" stroke="#2a5cf0" stroke-width="1.1"/><path d="M402,17.82 l-2.8,-1.6 v3.2z" fill="#2a5cf0"/><use href="#gnd" transform="translate(397.66,17.82) scale(0.97,1.02)"/>
<path d="M322,18.1 H325.7 V10.4 H330.1 V18.1 H334.4" fill="none" stroke="#333" stroke-width="1.1"/>
<text x="351" y="12.2" font-size="7.8" fill="#333">Input voltage</text>
<text x="361" y="32.7" font-size="7.9" fill="#2a4cf0">Output current</text>
<text x="339.7" y="30.99" font-size="6.8" fill="#333">D<tspan font-size="3.88" dy="1.36" fill="#8a8a8a">C,R</tspan></text>
<rect x="318.4" y="5.1" width="94.1" height="29.4" fill="none" stroke="#ee2a2a" stroke-width="1.1" stroke-dasharray="3,2.2"/>
<use href="#dev" transform="translate(328.5,42) scale(0.98,0.88)"/><use href="#dev" transform="translate(350.75,42.35) scale(0.98,0.88)"/><use href="#pin" transform="translate(335.85,39.1) scale(0.98)"/><use href="#gnd" transform="translate(362.11,45.43) scale(0.98)"/>
<path d="M300.9,41.6 H304.1 V33.5 H310.1 V41.6 H312.5" fill="none" stroke="#333" stroke-width="1.1"/>
<text x="315.7" y="41" font-size="7.6" fill="#333">or</text><line x1="323.7" y1="41.2" x2="333.7" y2="41.2" stroke="#333" stroke-width="1.1"/>
<path d="M370.3,50.9 Q380.9,47.58 382.4,37.6" fill="none" stroke="#ee2a2a" stroke-width="1.1" stroke-dasharray="2.6,2"/><path d="M382.4,37.6 L383.58,41.21 L380.21,40.71Z" fill="#ee2a2a"/>
<use href="#dev" transform="translate(319.7,66.6) scale(0.98,0.88)"/><use href="#dev" transform="translate(341.95,66.95) scale(0.98,0.88)"/><use href="#pin" transform="translate(327.05,63.7) scale(0.98)"/><use href="#gnd" transform="translate(353.31,70.03) scale(0.98)"/>
<path d="M288.6,66.6 H292.4 V58.6 H297.2 V66.6 H299.4" fill="none" stroke="#333" stroke-width="1.1"/>
<text x="303.7" y="66.7" font-size="7.6" fill="#333">or</text><line x1="311.4" y1="66.6" x2="320.8" y2="66.6" stroke="#333" stroke-width="1.1"/>
<text x="330.1" y="62.59" font-size="6.8" fill="#333">D<tspan font-size="3.88" dy="1.36" fill="#8a8a8a">C,R+1</tspan></text>
<path d="M363.1,73.7 Q386.5,64.67 388,37.6" fill="none" stroke="#ee2a2a" stroke-width="1.1" stroke-dasharray="2.6,2"/><path d="M388,37.6 L389.51,41.09 L386.11,40.9Z" fill="#ee2a2a"/>
<use href="#dev" transform="translate(309.2,92.3) scale(0.98,0.88)"/><use href="#dev" transform="translate(331.45,92.65) scale(0.98,0.88)"/><use href="#pin" transform="translate(316.55,89.4) scale(0.98)"/><use href="#gnd" transform="translate(342.81,95.73) scale(0.98)"/>
<path d="M277.5,90.7 H281.1 V82.7 H285.6 V90.7 H289.9" fill="none" stroke="#333" stroke-width="1.1"/>
<text x="291.5" y="91.7" font-size="7.6" fill="#333">or</text><line x1="300" y1="90.6" x2="310" y2="90.6" stroke="#333" stroke-width="1.1"/>
<text x="322" y="88.29" font-size="6.8" fill="#333">D<tspan font-size="3.88" dy="1.36" fill="#8a8a8a">C,R+2</tspan></text>
<path d="M351.7,100.7 Q392.3,84.92 393.8,37.6" fill="none" stroke="#ee2a2a" stroke-width="1.1" stroke-dasharray="2.6,2"/><path d="M393.8,37.6 L395.39,41.05 L391.99,40.94Z" fill="#ee2a2a"/>
<use href="#dev" transform="translate(300,117.1) scale(0.98,0.88)"/><use href="#dev" transform="translate(322.25,117.45) scale(0.98,0.88)"/><use href="#pin" transform="translate(307.35,114.2) scale(0.98)"/><use href="#gnd" transform="translate(333.61,120.53) scale(0.98)"/>
<path d="M268.2,115.1 H272.2 V106.3 H277 V115.1 H281.1" fill="none" stroke="#333" stroke-width="1.1"/>
<text x="282.7" y="117" font-size="7.6" fill="#333">or</text><line x1="290.7" y1="114.3" x2="301.1" y2="114.3" stroke="#333" stroke-width="1.1"/>
<text x="313.2" y="113.39" font-size="6.8" fill="#333">D<tspan font-size="3.88" dy="1.36" fill="#8a8a8a">C,R+3</tspan></text>
<path d="M343.7,125.6 Q398.1,103.6 399.6,37.6" fill="none" stroke="#ee2a2a" stroke-width="1.1" stroke-dasharray="2.6,2"/><path d="M399.6,37.6 L401.22,41.04 L397.82,40.96Z" fill="#ee2a2a"/>
<text x="303.9" y="138.09" font-size="6.8" fill="#333">D<tspan font-size="3.88" dy="1.36" fill="#8a8a8a">C,R+4</tspan></text>
<text x="447.6" y="7" font-size="12" font-weight="bold" fill="#111" stroke="#111" stroke-width="0.35">e</text>
<text x="497.4" y="15.8" font-size="9.2" fill="#333" text-anchor="middle">Two positive</text>
<text x="497.4" y="25" font-size="9.2" fill="#333" text-anchor="middle">pulse trains</text>
<text x="572.5" y="15.8" font-size="9.2" fill="#333" text-anchor="middle">One positive</text>
<text x="572.5" y="25" font-size="9.2" fill="#333" text-anchor="middle">pulse train</text>
<text x="652.3" y="25" font-size="9.25" fill="#333" text-anchor="middle">All ground</text>
<use href="#dev" transform="translate(472.8,41.8) scale(0.96,0.93)"/><use href="#dev" transform="translate(494.59,42.17) scale(0.96,0.93)"/><use href="#pin" transform="translate(480,38.84) scale(1)"/><path d="M488.74,47.57 H492.54" stroke="#2a5cf0" stroke-width="1.1"/><path d="M493.54,47.57 l-2.6,-1.5 v3z" fill="#2a5cf0"/><circle cx="513.41" cy="47.01" r="3.76" fill="#fff" stroke="#1f2f66" stroke-width="1.05"/><text x="513.41" y="49.33" font-size="6.4" text-anchor="middle" fill="#111">A</text><line x1="508.32" y1="47.01" x2="509.65" y2="47.01" stroke="#333" stroke-width="1.1"/><path d="M517.17,47.01 H519.84" stroke="#2a5cf0" stroke-width="1.1"/><use href="#gnd" transform="translate(514.37,47.01) scale(1,1.04)"/>
<path d="M457.2,45.1 H461.2 V36.4 H466 V45.1 H469.9" fill="none" stroke="#333" stroke-width="1.1"/>
<text x="471.4" y="61.23" font-size="7" fill="#333">D<tspan font-size="3.99" dy="1.4" fill="#8a8a8a">C,R</tspan></text>
<rect x="455.3" y="33.3" width="66.5" height="30.4" fill="none" stroke="#ee2a2a" stroke-width="1.1" stroke-dasharray="3,2.2"/>
<use href="#dev" transform="translate(461.6,70.6) scale(0.96,0.93)"/><use href="#dev" transform="translate(483.39,70.97) scale(0.96,0.93)"/><use href="#pin" transform="translate(468.8,67.64) scale(1)"/><use href="#gnd" transform="translate(494.53,74.23) scale(1)"/>
<path d="M443.2,76.5 H447.5 V67.3 H452 V76.5 H455.4" fill="none" stroke="#333" stroke-width="1.1"/>
<text x="459.3" y="92.33" font-size="7" fill="#333">D<tspan font-size="3.99" dy="1.4" fill="#8a8a8a">C,R+1</tspan></text>
<use href="#dev" transform="translate(447.2,96.2) scale(0.96,0.93)"/><use href="#dev" transform="translate(468.99,96.57) scale(0.96,0.93)"/><use href="#pin" transform="translate(454.4,93.24) scale(1)"/><use href="#gnd" transform="translate(480.13,99.83) scale(1)"/>
<path d="M433.4,94.8 H436.7 V86.3 H441.2 V94.8 H445.6" fill="none" stroke="#333" stroke-width="1.1"/>
<text x="445.2" y="117.83" font-size="7" fill="#333">D<tspan font-size="3.99" dy="1.4" fill="#8a8a8a">C,R+2</tspan></text>
<use href="#dev" transform="translate(553.9,41.3) scale(0.96,0.93)"/><use href="#dev" transform="translate(575.69,41.67) scale(0.96,0.93)"/><use href="#pin" transform="translate(561.1,38.34) scale(1)"/><path d="M569.84,47.07 H573.64" stroke="#2a5cf0" stroke-width="1.1"/><path d="M574.64,47.07 l-2.6,-1.5 v3z" fill="#2a5cf0"/><circle cx="594.51" cy="46.51" r="3.76" fill="#fff" stroke="#1f2f66" stroke-width="1.05"/><text x="594.51" y="48.83" font-size="6.4" text-anchor="middle" fill="#111">A</text><line x1="589.42" y1="46.51" x2="590.75" y2="46.51" stroke="#333" stroke-width="1.1"/><path d="M598.27,46.51 H600.94" stroke="#2a5cf0" stroke-width="1.1"/><use href="#gnd" transform="translate(595.47,46.51) scale(1,1.04)"/>
<path d="M535.7,43.1 H539.5 V35.2 H544.2 V43.1 H548.1" fill="none" stroke="#333" stroke-width="1.1"/>
<text x="549.9" y="59.33" font-size="7" fill="#333">D<tspan font-size="3.99" dy="1.4" fill="#8a8a8a">C,R</tspan></text>
<rect x="534.6" y="31.3" width="66.7" height="30.4" fill="none" stroke="#ee2a2a" stroke-width="1.1" stroke-dasharray="3,2.2"/>
<use href="#dev" transform="translate(537.6,73) scale(0.96,0.93)"/><use href="#dev" transform="translate(559.39,73.37) scale(0.96,0.93)"/><use href="#pin" transform="translate(544.8,70.04) scale(1)"/><use href="#gnd" transform="translate(570.53,76.63) scale(1)"/>
<path d="M519,76.6 H522.8 V68.3 H527.2 V76.6 H530.8" fill="none" stroke="#333" stroke-width="1.1"/>
<text x="535.5" y="92.83" font-size="7" fill="#333">D<tspan font-size="3.99" dy="1.4" fill="#8a8a8a">C,R+1</tspan></text>
<use href="#dev" transform="translate(519.2,99) scale(0.96,0.93)"/><use href="#dev" transform="translate(540.99,99.37) scale(0.96,0.93)"/><use href="#gnd" transform="translate(530.34,102.25) scale(1)"/><use href="#gnd" transform="translate(552.13,102.63) scale(1)"/>
<text x="516.6" y="119.03" font-size="7" fill="#333">D<tspan font-size="3.99" dy="1.4" fill="#8a8a8a">C,R+2</tspan></text>
<use href="#dev" transform="translate(629.8,42) scale(0.96,0.93)"/><use href="#dev" transform="translate(651.59,42.37) scale(0.96,0.93)"/><use href="#pin" transform="translate(637,39.04) scale(1)"/><path d="M645.74,47.77 H649.54" stroke="#2a5cf0" stroke-width="1.1"/><path d="M650.54,47.77 l-2.6,-1.5 v3z" fill="#2a5cf0"/><circle cx="670.41" cy="47.21" r="3.76" fill="#fff" stroke="#1f2f66" stroke-width="1.05"/><text x="670.41" y="49.53" font-size="6.4" text-anchor="middle" fill="#111">A</text><line x1="665.32" y1="47.21" x2="666.65" y2="47.21" stroke="#333" stroke-width="1.1"/><path d="M674.17,47.21 H676.84" stroke="#2a5cf0" stroke-width="1.1"/><use href="#gnd" transform="translate(671.37,47.21) scale(1,1.04)"/>
<path d="M614.8,43.6 H618.6 V35.9 H623 V43.6 H626.8" fill="none" stroke="#333" stroke-width="1.1"/>
<text x="629.5" y="61.13" font-size="7" fill="#333">D<tspan font-size="3.99" dy="1.4" fill="#8a8a8a">C,R</tspan></text>
<rect x="613.3" y="32.2" width="66" height="30.8" fill="none" stroke="#ee2a2a" stroke-width="1.1" stroke-dasharray="3,2.2"/>
<use href="#dev" transform="translate(609.4,73.7) scale(0.96,0.93)"/><use href="#dev" transform="translate(631.19,74.07) scale(0.96,0.93)"/><use href="#gnd" transform="translate(620.54,76.95) scale(1)"/><use href="#gnd" transform="translate(642.33,77.33) scale(1)"/>
<text x="608.9" y="95.63" font-size="7" fill="#333">D<tspan font-size="3.99" dy="1.4" fill="#8a8a8a">C,R+1</tspan></text>
<use href="#dev" transform="translate(594.5,101.3) scale(0.96,0.93)"/><use href="#dev" transform="translate(616.29,101.67) scale(0.96,0.93)"/><use href="#gnd" transform="translate(605.64,104.55) scale(1)"/><use href="#gnd" transform="translate(627.43,104.93) scale(1)"/>
<text x="588.3" y="121.43" font-size="7" fill="#333">D<tspan font-size="3.99" dy="1.4" fill="#8a8a8a">C,R+2</tspan></text>
<defs><linearGradient id="g1a" x1="0" x2="1" y1="0" y2="0">
<stop offset="0" stop-color="#e23a3a"/><stop offset="0.17" stop-color="#f07048"/><stop offset="0.35" stop-color="#f6a860"/>
<stop offset="0.55" stop-color="#f5dc82"/><stop offset="0.75" stop-color="#f0f292"/><stop offset="1" stop-color="#dcf7b0"/></linearGradient><linearGradient id="g1b" x1="0" x2="1" y1="0" y2="0">
<stop offset="0" stop-color="#a8f5f2"/><stop offset="0.25" stop-color="#88d8fa"/><stop offset="0.55" stop-color="#6090f5"/>
<stop offset="0.8" stop-color="#4a55e6"/><stop offset="1" stop-color="#4040d6"/></linearGradient><linearGradient id="g2a" x1="0" x2="1" y1="0" y2="0">
<stop offset="0" stop-color="#e84040"/><stop offset="0.18" stop-color="#f39050"/><stop offset="0.4" stop-color="#f5ee8a"/>
<stop offset="0.62" stop-color="#d6f8b2"/><stop offset="0.85" stop-color="#a0eef2"/><stop offset="1" stop-color="#8ad8f8"/></linearGradient><linearGradient id="g2b" x1="0" x2="1" y1="0" y2="0">
<stop offset="0" stop-color="#6a98f8"/><stop offset="0.15" stop-color="#5878f2"/><stop offset="0.5" stop-color="#4848e0"/>
<stop offset="1" stop-color="#4040d0"/></linearGradient><linearGradient id="g3a" x1="0" x2="1" y1="0" y2="0">
<stop offset="0" stop-color="#e84040"/><stop offset="0.12" stop-color="#f59050"/><stop offset="0.3" stop-color="#f4f090"/>
<stop offset="0.48" stop-color="#c8f8c0"/><stop offset="0.65" stop-color="#90eef8"/><stop offset="0.85" stop-color="#6080f0"/>
<stop offset="1" stop-color="#4a55ee"/></linearGradient><linearGradient id="gcb" x1="0" x2="0" y1="1" y2="0">
<stop offset="0" stop-color="#3434b8"/><stop offset="0.1" stop-color="#3a4ee0"/><stop offset="0.2" stop-color="#4f82f2"/>
<stop offset="0.3" stop-color="#72c4f8"/><stop offset="0.4" stop-color="#a6f0f0"/><stop offset="0.5" stop-color="#c8f6c0"/>
<stop offset="0.6" stop-color="#f0f296"/><stop offset="0.7" stop-color="#f6cc72"/><stop offset="0.8" stop-color="#f29050"/>
<stop offset="0.9" stop-color="#e04838"/><stop offset="1" stop-color="#b41e1e"/></linearGradient></defs>
<rect x="19.3" y="381.3" width="108.2" height="127.7" fill="#c3f8c3"/>
<path d="M20.53,385.81L22.47,382.79M25.76,385.23L28.84,383.37M31.48,385.07L34.72,383.53M37.15,384.73L40.65,383.87M42.9,384.41L46.5,384.19M48.7,384.32L52.3,384.28M54.5,384.31L58.1,384.29M60.3,384.3L63.9,384.3M66.1,384.3L69.7,384.3M71.9,384.3L75.5,384.3M77.7,384.3L81.3,384.3M83.5,384.3L87.1,384.3M89.3,384.29L92.9,384.31M95.1,384.24L98.7,384.36M100.92,384.02L104.48,384.58M106.83,383.63L110.17,384.97M112.69,383.49L115.91,385.11M118.58,383.33L121.62,385.27M125.24,382.63L126.56,385.97M21.21,391.88L21.79,388.32M26.66,391.78L27.94,388.42M32.41,391.76L33.79,388.44M37.31,390.95L40.49,389.25M42.9,390.2L46.5,390M48.7,390.12L52.3,390.08M54.5,390.1L58.1,390.1M60.3,390.1L63.9,390.1M66.1,390.1L69.7,390.1M71.9,390.1L75.5,390.1M77.7,390.1L81.3,390.1M83.5,390.1L87.1,390.1M89.3,390.09L92.9,390.11M95.1,390.05L98.7,390.15M100.94,389.71L104.46,390.49M107.68,388.5L109.32,391.7M113.56,388.46L115.04,391.74M119.4,388.44L120.8,391.76M125.7,388.31L126.1,391.89M21.57,397.7L21.43,394.1M27.7,397.66L26.9,394.14M34.12,397.38L32.08,394.42M109.88,394.74L107.12,397.06M114.88,394.2L113.72,397.6M120.22,394.1L119.98,397.7M125.9,394.1L125.9,397.7M21.75,403.48L21.25,399.92M28.21,403.25L26.39,400.15M34.59,402.71L31.61,400.69M110.18,401.07L106.82,402.33M115.49,400.35L113.11,403.05M120.68,400L119.52,403.4M126.01,399.9L125.79,403.5M21.84,409.27L21.16,405.73M28.41,408.92L26.19,406.08M34.71,408.31L31.49,406.69M110.24,407.03L106.76,407.97M115.71,406.38L112.89,408.62M120.91,405.89L119.29,409.11M126.06,405.71L125.74,409.29M21.88,415.06L21.12,411.54M28.51,414.63L26.09,411.97M34.76,413.99L31.44,412.61M110.26,412.93L106.74,413.67M115.81,412.32L112.79,414.28M121.02,411.75L119.18,414.85M126.09,411.51L125.71,415.09M21.89,420.86L21.11,417.34M28.58,420.37L26.02,417.83M34.83,419.58L31.37,418.62M110.29,418.91L106.71,419.29M115.89,418.25L112.71,419.95M121.07,417.58L119.13,420.62M126.1,417.31L125.7,420.89M21.85,426.67L21.15,423.13M28.45,426.28L26.15,423.52M34.76,424.2L31.44,425.6M109.66,426.27L107.34,423.53M115.88,424.03L112.72,425.77M121.04,423.36L119.16,426.44M126.1,423.11L125.7,426.69M21.82,432.47L21.18,428.93M28.16,432.28L26.44,429.12M33.92,432.3L32.28,429.1M109.66,429.32L107.34,432.08M115.49,429.35L113.11,432.05M121.02,429.15L119.18,432.25M126.11,428.91L125.69,432.49M21.96,438.24L21.04,434.76M28.53,437.81L26.07,435.19M34.69,437.33L31.51,435.67M110.24,436.05L106.76,436.95M115.85,435.58L112.75,437.42M121.27,435.14L118.93,437.86M126.2,434.72L125.6,438.28M22.48,443.81L20.52,440.79M28.96,443L25.64,441.6M34.87,442.64L31.33,441.96M110.29,442.15L106.71,442.45M116.06,441.91L112.54,442.69M121.74,441.56L118.46,443.04M126.62,440.65L125.18,443.95M23.15,447.38L19.85,448.82M29.09,447.92L25.51,448.28M34.9,448.03L31.3,448.17M110.3,448.14L106.7,448.06M116.1,448.21L112.5,447.99M121.87,448.4L118.33,447.8M127.18,449.37L124.62,446.83M22.15,452.22L20.85,455.58M28.8,452.9L25.8,454.9M34.82,453.38L31.38,454.42M110.28,454.16L106.72,453.64M115.99,454.52L112.61,453.28M121.48,455.06L118.72,452.74M126.28,455.66L125.52,452.14M21.94,457.95L21.06,461.45M28.53,458.38L26.07,461.02M34.61,458.72L31.59,460.68M110.16,460.4L106.84,459M115.83,460.65L112.77,458.75M121.19,461.13L119.01,458.27M126.15,461.48L125.65,457.92M21.89,463.74L21.11,467.26M28.51,464.17L26.09,466.83M34.83,465.01L31.37,465.99M110.26,465.12L106.74,465.88M115.85,466.42L112.75,464.58M121.1,467L119.1,464M126.11,467.29L125.69,463.71M21.89,469.54L21.11,473.06M28.52,469.98L26.08,472.62M34.78,470.64L31.42,471.96M110.27,471.62L106.73,470.98M115.83,472.25L112.77,470.35M121.05,472.83L119.15,469.77M126.1,473.09L125.7,469.51M21.87,475.34L21.13,478.86M28.48,475.74L26.12,478.46M34.74,476.36L31.46,477.84M110.25,477.5L106.75,476.7M115.78,478.12L112.82,476.08M121,478.66L119.2,475.54M126.09,478.89L125.71,475.31M21.83,481.13L21.17,484.67M28.4,481.47L26.2,484.33M34.7,482.07L31.5,483.73M110.24,483.38L106.76,482.42M115.69,484.04L112.91,481.76M120.9,484.51L119.3,481.29M126.06,484.69L125.74,481.11M21.75,486.92L21.25,490.48M28.2,487.14L26.4,490.26M34.59,487.69L31.61,489.71M110.18,489.34L106.82,488.06M115.49,490.05L113.11,487.35M120.68,490.4L119.52,487M126.01,490.5L125.79,486.9M21.57,492.7L21.43,496.3M27.69,492.74L26.91,496.26M34.12,493.02L32.08,495.98M109.88,495.66L107.12,493.34M114.88,496.2L113.72,492.8M120.22,496.3L119.98,492.7M125.9,496.3L125.9,492.7M21.21,498.52L21.79,502.08M26.66,498.62L27.94,501.98M32.4,498.64L33.8,501.96M37.31,499.45L40.49,501.15M42.9,500.2L46.5,500.4M48.7,500.28L52.3,500.32M54.5,500.3L58.1,500.3M60.3,500.3L63.9,500.3M66.1,500.3L69.7,500.3M71.9,500.3L75.5,500.3M77.7,500.3L81.3,500.3M83.5,500.3L87.1,500.3M89.3,500.31L92.9,500.29M95.1,500.35L98.7,500.25M100.94,500.69L104.46,499.91M107.68,501.9L109.32,498.7M113.56,501.94L115.04,498.66M119.4,501.96L120.8,498.64M125.7,502.09L126.1,498.51M20.53,504.59L22.47,507.61M25.76,505.17L28.84,507.03M31.48,505.33L34.72,506.87M37.15,505.67L40.65,506.53M42.9,505.99L46.5,506.21M48.7,506.08L52.3,506.12M54.5,506.09L58.1,506.11M60.3,506.1L63.9,506.1M66.1,506.1L69.7,506.1M71.9,506.1L75.5,506.1M77.7,506.1L81.3,506.1M83.5,506.1L87.1,506.1M89.3,506.11L92.9,506.09M95.1,506.16L98.7,506.04M100.92,506.38L104.48,505.82M106.83,506.77L110.17,505.43M112.69,506.91L115.91,505.29M118.58,507.07L121.62,505.13M125.23,507.77L126.57,504.43" stroke="#2a342a" stroke-width="0.5" fill="none" stroke-linecap="round" opacity="0.72"/><path d="M21.18,383.5L22.58,382.62L22.36,384.26ZM27.36,383.44L29.01,383.26L28.09,384.64ZM33.25,383.45L34.91,383.44L33.85,384.72ZM39.22,383.5L40.84,383.83L39.55,384.86ZM45.16,383.57L46.7,384.18L45.24,384.97ZM50.99,383.59L52.5,384.28L51.01,384.99ZM56.8,383.6L58.3,384.29L56.8,385ZM62.6,383.6L64.1,384.3L62.6,385ZM68.4,383.6L69.9,384.3L68.4,385ZM74.2,383.6L75.7,384.3L74.2,385ZM80,383.6L81.5,384.3L80,385ZM85.8,383.6L87.3,384.3L85.8,385ZM91.6,383.6L93.1,384.31L91.6,385ZM97.42,383.62L98.9,384.37L97.38,385.02ZM103.3,383.69L104.68,384.61L103.08,385.07ZM109.23,383.84L110.36,385.05L108.7,385.14ZM115.06,383.9L116.09,385.2L114.43,385.15ZM120.9,383.98L121.79,385.37L120.15,385.16ZM126.74,384.51L126.64,386.16L125.43,385.02ZM20.89,389.49L21.82,388.13L22.27,389.72ZM26.83,389.38L28.02,388.23L28.13,389.88ZM32.65,389.37L33.87,388.26L33.94,389.91ZM39.01,389.25L40.66,389.16L39.67,390.48ZM45.16,389.37L46.7,389.99L45.24,390.77ZM50.99,389.4L52.5,390.08L51.01,390.8ZM56.8,389.4L58.3,390.1L56.8,390.8ZM62.6,389.4L64.1,390.1L62.6,390.8ZM68.4,389.4L69.9,390.1L68.4,390.8ZM74.2,389.4L75.7,390.1L74.2,390.8ZM80,389.4L81.5,390.1L80,390.8ZM85.8,389.4L87.3,390.1L85.8,390.8ZM91.6,389.4L93.1,390.11L91.6,390.8ZM97.42,389.42L98.9,390.16L97.38,390.81ZM103.34,389.52L104.65,390.53L103.04,390.89ZM109.35,390.22L109.41,391.88L108.11,390.86ZM115.14,390.27L115.12,391.92L113.87,390.84ZM120.94,390.29L120.87,391.94L119.65,390.83ZM126.65,390.52L126.12,392.09L125.26,390.67ZM20.78,395.43L21.42,393.9L22.18,395.37ZM26.51,395.57L26.86,393.95L27.87,395.26ZM32.24,395.89L31.97,394.25L33.39,395.09ZM108.57,396.76L106.97,397.18L107.67,395.68ZM114.8,396.6L113.65,397.79L113.48,396.15ZM120.77,396.45L119.97,397.9L119.37,396.35ZM126.6,396.4L125.9,397.9L125.2,396.4ZM20.74,401.3L21.22,399.72L22.12,401.11ZM26.44,401.62L26.29,399.97L27.65,400.91ZM32.29,402L31.44,400.58L33.08,400.84ZM108.28,402.53L106.63,402.4L107.79,401.22ZM114.49,402.54L112.97,403.2L113.44,401.61ZM120.6,402.4L119.45,403.59L119.28,401.95ZM126.57,402.24L125.78,403.7L125.17,402.16ZM20.72,407.14L21.12,405.54L22.09,406.88ZM26.44,407.54L26.07,405.93L27.54,406.67ZM32.34,407.9L31.32,406.6L32.97,406.65ZM108.2,408.31L106.57,408.02L107.84,406.95ZM114.35,408.36L112.74,408.75L113.47,407.27ZM120.5,408.26L119.2,409.29L119.25,407.63ZM126.55,408.06L125.72,409.49L125.16,407.94ZM20.71,412.96L21.08,411.35L22.08,412.66ZM26.45,413.4L25.95,411.82L27.48,412.46ZM32.37,413.75L31.25,412.53L32.91,412.46ZM108.15,414.09L106.54,413.71L107.87,412.72ZM114.26,414.16L112.62,414.39L113.5,412.99ZM120.45,414.09L119.08,415.02L119.24,413.37ZM126.54,413.87L125.69,415.29L125.15,413.72ZM20.71,418.77L21.06,417.15L22.07,418.46ZM26.45,419.25L25.88,417.69L27.44,418.25ZM32.43,419.64L31.17,418.57L32.8,418.29ZM108.07,419.85L106.51,419.31L107.93,418.46ZM114.19,419.95L112.54,420.04L113.53,418.72ZM120.42,419.9L119.02,420.79L119.24,419.14ZM126.54,419.67L125.68,421.09L125.15,419.52ZM20.72,424.55L21.11,422.94L22.09,424.27ZM26.44,424.96L26.02,423.36L27.52,424.07ZM32.91,425.74L31.26,425.67L32.37,424.45ZM107.64,424.97L107.21,423.37L108.71,424.07ZM114.2,425.75L112.55,425.86L113.52,424.53ZM120.44,425.69L119.06,426.61L119.24,424.96ZM126.54,425.47L125.68,426.89L125.15,425.32ZM20.72,430.33L21.14,428.73L22.1,430.08ZM26.45,430.59L26.35,428.94L27.68,429.93ZM32.25,430.57L32.19,428.92L33.5,429.94ZM108.71,431.53L107.21,432.23L107.64,430.63ZM114.5,431.54L112.98,432.21L113.44,430.62ZM120.45,431.49L119.08,432.42L119.24,430.77ZM126.54,431.28L125.67,432.69L125.15,431.11ZM20.7,436.2L20.99,434.57L22.05,435.84ZM26.45,436.62L25.93,435.04L27.47,435.66ZM32.33,436.89L31.33,435.57L32.98,435.65ZM108.19,437.3L106.56,437L107.84,435.95ZM114.23,437.36L112.58,437.52L113.51,436.15ZM120.3,437.34L118.79,438.02L119.24,436.42ZM126.51,437.11L125.57,438.47L125.13,436.88ZM20.64,442.26L20.41,440.62L21.81,441.5ZM26.57,442.75L25.46,441.52L27.11,441.46ZM32.48,442.89L31.14,441.92L32.74,441.52ZM108.06,443.04L106.51,442.47L107.94,441.65ZM113.96,443.09L112.35,442.73L113.66,441.72ZM119.93,443.14L118.28,443.12L119.36,441.87ZM126.34,443.04L125.1,444.13L125.06,442.48ZM21.32,448.94L19.67,448.9L20.76,447.66ZM26.87,448.85L25.31,448.3L26.73,447.45ZM32.63,448.82L31.1,448.18L32.57,447.42ZM107.99,448.79L106.5,448.06L108.01,447.39ZM113.76,448.77L112.3,447.98L113.84,447.37ZM119.49,448.71L118.13,447.77L119.72,447.33ZM125.05,448.24L124.48,446.69L126.04,447.25ZM21.97,454.62L20.78,455.76L20.67,454.11ZM27.27,454.76L25.64,455.01L26.5,453.6ZM32.82,454.71L31.18,454.47L32.42,453.37ZM107.91,454.52L106.52,453.62L108.1,453.14ZM113.59,454.38L112.42,453.21L114.07,453.07ZM119.27,454.11L118.57,452.61L120.17,453.04ZM125.11,453.56L125.47,451.95L126.48,453.26ZM22.06,460.35L21.02,461.64L20.7,460.02ZM27.47,460.54L25.94,461.16L26.45,459.59ZM33.06,460.56L31.42,460.79L32.3,459.38ZM107.77,460.15L106.66,458.92L108.31,458.86ZM113.51,460.03L112.6,458.64L114.25,458.84ZM119.24,459.73L118.89,458.11L120.35,458.88ZM125.14,459.3L125.62,457.72L126.52,459.11ZM22.07,466.14L21.06,467.45L20.71,465.83ZM27.48,466.34L25.95,466.98L26.45,465.4ZM32.81,466.31L31.18,466.04L32.43,464.96ZM108.16,466.29L106.54,465.92L107.86,464.92ZM113.51,465.85L112.58,464.48L114.23,464.64ZM119.24,465.47L118.99,463.83L120.41,464.7ZM125.15,465.09L125.66,463.51L126.54,464.92ZM22.08,471.94L21.07,473.25L20.71,471.64ZM27.48,472.14L25.95,472.77L26.45,471.19ZM32.89,472.13L31.24,472.03L32.38,470.83ZM107.88,471.9L106.53,470.95L108.13,470.52ZM113.51,471.63L112.6,470.25L114.24,470.44ZM119.24,471.25L119.04,469.6L120.43,470.51ZM125.15,470.88L125.68,469.31L126.54,470.73ZM22.08,477.73L21.09,479.06L20.71,477.45ZM27.5,477.94L25.99,478.61L26.44,477.02ZM32.93,477.94L31.28,477.93L32.36,476.67ZM107.86,477.67L106.55,476.65L108.17,476.31ZM113.49,477.39L112.65,475.96L114.29,476.24ZM119.24,477.02L119.1,475.37L120.46,476.32ZM125.15,476.67L125.69,475.11L126.54,476.53ZM22.1,483.52L21.13,484.87L20.72,483.26ZM27.55,483.72L26.08,484.49L26.44,482.87ZM32.98,483.75L31.32,483.82L32.33,482.51ZM107.83,483.44L106.57,482.37L108.2,482.09ZM113.47,483.13L112.75,481.64L114.36,482.04ZM119.25,482.76L119.22,481.11L120.51,482.14ZM125.16,482.46L125.72,480.91L126.55,482.34ZM22.12,489.29L21.22,490.68L20.74,489.1ZM27.65,489.48L26.3,490.43L26.44,488.78ZM33.08,489.56L31.45,489.82L32.29,488.4ZM107.78,489.18L106.63,487.99L108.28,487.87ZM113.44,488.79L112.98,487.2L114.5,487.86ZM119.28,488.45L119.46,486.81L120.6,488ZM125.17,488.24L125.78,486.7L126.57,488.16ZM22.18,495.03L21.42,496.5L20.78,494.97ZM27.87,495.14L26.86,496.45L26.51,494.84ZM33.39,495.31L31.97,496.15L32.24,494.52ZM107.67,494.71L106.97,493.21L108.57,493.64ZM113.48,494.25L113.66,492.61L114.8,493.8ZM119.37,494.05L119.97,492.5L120.77,493.96ZM125.2,494L125.9,492.5L126.6,494ZM22.27,500.68L21.82,502.27L20.89,500.91ZM28.13,500.52L28.02,502.17L26.83,501.02ZM33.94,500.49L33.87,502.14L32.65,501.03ZM39.67,499.92L40.66,501.24L39.01,501.15ZM45.24,499.63L46.7,500.41L45.16,501.03ZM51.01,499.6L52.5,500.32L50.99,501ZM56.8,499.6L58.3,500.3L56.8,501ZM62.6,499.6L64.1,500.3L62.6,501ZM68.4,499.6L69.9,500.3L68.4,501ZM74.2,499.6L75.7,500.3L74.2,501ZM80,499.6L81.5,500.3L80,501ZM85.8,499.6L87.3,500.3L85.8,501ZM91.6,499.6L93.1,500.29L91.6,501ZM97.38,499.59L98.9,500.24L97.42,500.98ZM103.04,499.51L104.65,499.87L103.34,500.88ZM108.11,499.54L109.42,498.52L109.35,500.18ZM113.87,499.56L115.12,498.48L115.14,500.13ZM119.65,499.57L120.88,498.46L120.94,500.11ZM125.26,499.73L126.12,498.31L126.65,499.88ZM22.36,506.14L22.58,507.78L21.18,506.9ZM28.09,505.76L29.01,507.14L27.36,506.96ZM33.85,505.68L34.91,506.96L33.25,506.95ZM39.55,505.54L40.84,506.57L39.22,506.9ZM45.24,505.43L46.7,506.22L45.16,506.83ZM51.01,505.41L52.5,506.12L50.99,506.81ZM56.8,505.4L58.3,506.11L56.8,506.8ZM62.6,505.4L64.1,506.1L62.6,506.8ZM68.4,505.4L69.9,506.1L68.4,506.8ZM74.2,505.4L75.7,506.1L74.2,506.8ZM80,505.4L81.5,506.1L80,506.8ZM85.8,505.4L87.3,506.1L85.8,506.8ZM91.6,505.4L93.1,506.09L91.6,506.8ZM97.38,505.38L98.9,506.03L97.42,506.78ZM103.08,505.33L104.68,505.79L103.3,506.71ZM108.7,505.26L110.36,505.35L109.23,506.56ZM114.43,505.25L116.09,505.2L115.06,506.5ZM120.15,505.24L121.79,505.03L120.9,506.42ZM125.43,505.38L126.64,504.24L126.74,505.89Z" fill="#2a342a" opacity="0.72"/>
<rect x="37.8" y="392" width="34" height="34.3" fill="#b81e1f"/>
<rect x="37.8" y="392" width="34" height="0.8" fill="#e07a3a"/>
<rect x="37.8" y="392" width="0.9" height="34.3" fill="#a01a1a"/>
<rect x="72.7" y="392" width="33.6" height="34.3" fill="#3737c4"/>
<text x="43.9" y="405.4" font-size="6.7" fill="#f6eeee">D<tspan font-size="3.9" dy="1.4" fill="#e8dede">C,R</tspan></text>
<path d="M43,415.8 H47.4 V408.4 H52.9 V415.8 H56.9" fill="none" stroke="#f2dede" stroke-width="0.95"/>
<path d="M82.7,413.4 H89.1 V419" fill="none" stroke="#e2e2fa" stroke-width="1.0"/><path d="M85.3,418.6 H92.3 Q91.1,422 88.8,422 Q86.5,422 85.3,418.6 Z" fill="#e2e2fa"/>
<rect x="37.8" y="428.2" width="34" height="34.8" fill="#b81e1f"/>
<rect x="37.8" y="428.2" width="34" height="0.8" fill="#e07a3a"/>
<rect x="37.8" y="428.2" width="0.9" height="34.8" fill="#a01a1a"/>
<rect x="72.7" y="428.2" width="33.6" height="34.8" fill="#3737c4"/>
<text x="43.9" y="441.6" font-size="6.7" fill="#f6eeee">D<tspan font-size="3.9" dy="1.4" fill="#e8dede">C,R+1</tspan></text>
<path d="M43,452 H47.4 V444.6 H52.9 V452 H56.9" fill="none" stroke="#f2dede" stroke-width="0.95"/>
<path d="M82.7,449.6 H89.1 V455.2" fill="none" stroke="#e2e2fa" stroke-width="1.0"/><path d="M85.3,454.8 H92.3 Q91.1,458.2 88.8,458.2 Q86.5,458.2 85.3,454.8 Z" fill="#e2e2fa"/>
<rect x="37.8" y="464.6" width="34" height="34" fill="#b81e1f"/>
<rect x="37.8" y="464.6" width="34" height="0.8" fill="#e07a3a"/>
<rect x="37.8" y="464.6" width="0.9" height="34" fill="#a01a1a"/>
<rect x="72.7" y="464.6" width="33.6" height="34" fill="#3737c4"/>
<text x="43.9" y="478" font-size="6.7" fill="#f6eeee">D<tspan font-size="3.9" dy="1.4" fill="#e8dede">C,R+2</tspan></text>
<path d="M43,488.4 H47.4 V481 H52.9 V488.4 H56.9" fill="none" stroke="#f2dede" stroke-width="0.95"/>
<path d="M82.7,486 H89.1 V491.6" fill="none" stroke="#e2e2fa" stroke-width="1.0"/><path d="M85.3,491.2 H92.3 Q91.1,494.6 88.8,494.6 Q86.5,494.6 85.3,491.2 Z" fill="#e2e2fa"/>
<line x1="19.3" y1="427.25" x2="127.5" y2="427.25" stroke="#2a342a" stroke-width="0.8" stroke-dasharray="2.4,1.6" opacity="0.9"/>
<line x1="19.3" y1="463.8" x2="127.5" y2="463.8" stroke="#2a342a" stroke-width="0.8" stroke-dasharray="2.4,1.6" opacity="0.9"/>
<line x1="72.25" y1="392" x2="72.25" y2="498.6" stroke="#d0eaa0" stroke-width="0.8" opacity="0.9"/>
<text x="68" y="375.4" font-size="9.2" fill="#333" text-anchor="middle">Two positive</text>
<rect x="231.9" y="380.7" width="108.5" height="126" fill="#8aecf8"/>
<path d="M233.13,385.21L235.07,382.19M238.37,384.64L241.43,382.76M244.11,384.54L247.29,382.86M249.84,384.39L253.16,383.01M255.52,383.99L259.08,383.41M261.3,383.76L264.9,383.64M267.1,383.71L270.7,383.69M272.9,383.7L276.5,383.7M278.7,383.7L282.3,383.7M284.5,383.69L288.1,383.71M290.3,383.7L293.9,383.7M296.1,383.7L299.7,383.7M301.9,383.69L305.5,383.71M307.7,383.65L311.3,383.75M313.51,383.47L317.09,383.93M319.41,383.08L322.79,384.32M325.3,382.88L328.5,384.52M331.18,382.73L334.22,384.67M337.84,382.03L339.16,385.37M233.81,391.28L234.39,387.72M239.25,391.18L240.55,387.82M245.03,391.17L246.37,387.83M250.72,391.12L252.28,387.88M255.54,389.89L259.06,389.11M261.3,389.56L264.9,389.44M267.1,389.51L270.7,389.49M272.9,389.5L276.5,389.5M278.7,389.49L282.3,389.51M284.5,389.44L288.1,389.56M290.3,389.5L293.9,389.5M296.1,389.5L299.7,389.5M301.9,389.49L305.5,389.51M307.7,389.46L311.3,389.54M313.52,389.23L317.08,389.77M320.17,387.96L322.03,391.04M326.18,387.85L327.62,391.15M332.03,387.83L333.37,391.17M338.31,387.71L338.69,391.29M234.21,397.1L233.99,393.5M240.28,397.06L239.52,393.54M246.41,396.96L244.99,393.64M252.94,396.38L250.06,394.22M327.49,393.6L326.31,397M332.88,393.51L332.52,397.09M338.51,393.5L338.49,397.1M234.61,402.83L233.59,399.37M241.09,402.45L238.71,399.75M247.17,402.14L244.23,400.06M253.25,401.54L249.75,400.66M328.08,399.74L325.72,402.46M333.35,399.42L332.05,402.78M338.62,399.3L338.38,402.9M235.76,407.59L232.44,406.21M241.66,407.28L238.14,406.52M247.47,407.21L243.93,406.59M253.3,407.03L249.7,406.77M328.28,405.75L325.52,408.05M333.56,405.32L331.84,408.48M338.67,405.11L338.33,408.69M234.96,411.12L233.24,414.28M241.54,411.96L238.26,413.44M247.47,412.35L243.93,413.05M253.3,412.6L249.7,412.8M328.37,411.66L325.43,413.74M333.66,411.18L331.74,414.22M338.7,410.91L338.3,414.49M234.61,416.77L233.59,420.23M241.26,417.32L238.54,419.68M247.35,417.79L244.05,419.21M253.28,418.26L249.72,418.74M328.44,417.57L325.36,419.43M333.7,417.01L331.7,419.99M338.71,416.71L338.29,420.29M234.48,422.54L233.72,426.06M241.05,422.91L238.75,425.69M247.23,423.36L244.17,425.24M253.23,423.8L249.77,424.8M328.47,423.42L325.33,425.18M333.65,422.77L331.75,425.83M338.69,422.51L338.31,426.09M234.44,428.33L233.76,431.87M240.96,428.65L238.84,431.55M247.2,429.1L244.2,431.1M253.29,429.96L249.71,430.24M327.85,428.57L325.95,431.63M333.49,428.48L331.91,431.72M338.68,428.31L338.32,431.89M234.41,434.13L233.79,437.67M240.91,434.41L238.89,437.39M247.16,434.85L244.24,436.95M253.27,435.55L249.73,436.25M328.21,434.66L325.59,437.14M333.59,434.33L331.81,437.47M338.69,434.11L338.31,437.69M234.39,439.92L233.81,443.48M240.85,440.17L238.95,443.23M247.12,440.59L244.28,442.81M253.25,441.3L249.75,442.1M328.44,440.76L325.36,442.64M333.8,440.28L331.6,443.12M338.75,439.92L338.25,443.48M234.36,445.72L233.84,449.28M240.78,445.93L239.02,449.07M247.05,446.31L244.35,448.69M253.24,447.05L249.76,447.95M328.59,446.88L325.21,448.12M334.05,446.31L331.35,448.69M338.84,445.73L338.16,449.27M234.3,451.51L233.9,455.09M240.6,451.64L239.2,454.96M246.87,451.93L244.53,454.67M253.2,452.71L249.8,453.89M328.7,453.43L325.1,453.17M334.43,452.8L330.97,453.8M339.12,451.61L337.88,454.99M234.2,457.3L234,460.9M240.26,457.34L239.54,460.86M246.39,457.44L245.01,460.76M252.95,458.03L250.05,460.17M327.94,460.57L325.86,457.63M334.32,459.88L331.08,458.32M340.2,459.69L336.8,458.51M234.06,463.1L234.14,466.7M239.76,463.11L240.04,466.69M245.43,463.12L245.97,466.68M250.71,463.28L252.29,466.52M326.26,463.22L327.54,466.58M334.24,465.83L331.16,463.97M338.99,466.63L338.01,463.17M233.94,468.91L234.26,472.49M239.33,468.99L240.47,472.41M244.69,469.21L246.71,472.19M249.86,469.96L253.14,471.44M328.68,470.45L325.12,470.95M334.28,471.57L331.12,469.83M338.89,472.46L338.11,468.94M233.86,474.72L234.34,478.28M239.09,474.89L240.71,478.11M244.42,475.23L246.98,477.77M249.77,475.99L253.23,477.01M328.63,477L325.17,476M334.06,477.68L331.34,475.32M338.82,478.27L338.18,474.73M233.8,480.53L234.4,484.07M238.92,480.79L240.88,483.81M244.27,481.21L247.13,483.39M249.74,481.91L253.26,482.69M328.45,483.22L325.35,481.38M333.79,483.73L331.61,480.87M338.74,484.08L338.26,480.52M233.73,486.34L234.47,489.86M238.77,486.7L241.03,489.5M244.15,487.19L247.25,489.01M249.72,487.81L253.28,488.39M328.21,489.33L325.59,486.87M333.51,489.71L331.89,486.49M338.66,489.89L338.34,486.31M233.63,492.16L234.57,495.64M238.57,492.68L241.23,495.12M244.01,493.28L247.39,494.52M249.7,493.87L253.3,493.93M327.64,495.54L326.16,492.26M332.99,495.68L332.41,492.12M338.54,495.7L338.46,492.1M233.38,498.05L234.82,501.35M238.31,498.86L241.49,500.54M243.91,499.51L247.49,499.89M250.02,500.73L252.98,498.67M326.2,501.36L327.6,498.04M331.98,501.35L333.42,498.05M338.28,501.49L338.72,497.91M232.54,504.6L235.66,506.4M238.12,505.27L241.68,505.73M243.9,505.48L247.5,505.52M249.77,506.01L253.23,504.99M258.71,506.62L255.89,504.38M264.9,505.59L261.3,505.41M270.7,505.51L267.1,505.49M276.5,505.49L272.9,505.51M282.29,505.31L278.71,505.69M285.11,504.15L287.49,506.85M290.3,505.37L293.9,505.63M296.1,505.49L299.7,505.51M301.9,505.5L305.5,505.5M307.7,505.51L311.3,505.49M313.5,505.6L317.1,505.4M319.34,505.9L322.86,505.1M325.17,505.99L328.63,505.01M330.99,506.06L334.41,504.94M337.37,506.9L339.63,504.1" stroke="#1c3444" stroke-width="0.5" fill="none" stroke-linecap="round" opacity="0.75"/><path d="M233.78,382.9L235.18,382.02L234.96,383.66ZM239.96,382.84L241.6,382.65L240.69,384.03ZM245.82,382.85L247.47,382.77L246.47,384.09ZM251.69,382.86L253.35,382.94L252.23,384.16ZM257.68,382.93L259.27,383.38L257.91,384.31ZM263.58,382.98L265.1,383.63L263.62,384.38ZM269.4,383L270.9,383.69L269.4,384.4ZM275.2,383L276.7,383.7L275.2,384.4ZM281,383L282.5,383.7L281,384.4ZM286.8,383L288.3,383.71L286.8,384.4ZM292.6,383L294.1,383.7L292.6,384.4ZM298.4,383L299.9,383.7L298.4,384.4ZM304.2,383L305.7,383.71L304.2,384.4ZM310.02,383.01L311.5,383.75L309.98,384.41ZM315.88,383.07L317.28,383.95L315.71,384.46ZM321.81,383.22L322.98,384.39L321.33,384.53ZM327.66,383.31L328.68,384.61L327.02,384.55ZM333.5,383.38L334.38,384.78L332.74,384.56ZM339.34,383.91L339.24,385.56L338.03,384.42ZM233.49,388.89L234.42,387.53L234.87,389.12ZM239.43,388.78L240.63,387.64L240.73,389.29ZM245.24,388.77L246.45,387.65L246.54,389.3ZM251.09,388.75L252.37,387.7L252.35,389.35ZM257.63,388.71L259.25,389.06L257.94,390.07ZM263.58,388.79L265.1,389.44L263.62,390.18ZM269.4,388.8L270.9,389.49L269.4,390.2ZM275.2,388.8L276.7,389.5L275.2,390.2ZM281,388.8L282.5,389.51L281,390.2ZM286.82,388.82L288.3,389.57L286.78,390.22ZM292.6,388.8L294.1,389.5L292.6,390.2ZM298.4,388.8L299.9,389.5L298.4,390.2ZM304.2,388.8L305.7,389.51L304.2,390.2ZM310.02,388.81L311.5,389.54L309.98,390.21ZM315.9,388.88L317.28,389.8L315.69,390.27ZM321.96,389.57L322.13,391.21L320.76,390.29ZM327.74,389.68L327.7,391.33L326.46,390.24ZM333.54,389.7L333.45,391.36L332.24,390.23ZM339.25,389.92L338.71,391.49L337.86,390.07ZM233.37,394.84L233.98,393.3L234.77,394.76ZM239.11,394.96L239.48,393.35L240.48,394.66ZM244.86,395.11L244.92,393.46L246.15,394.57ZM250.68,395.56L249.9,394.1L251.52,394.44ZM327.4,396L326.25,397.19L326.08,395.54ZM333.35,395.87L332.5,397.29L331.95,395.73ZM339.2,395.81L338.48,397.3L337.8,395.79ZM233.29,400.82L233.54,399.18L234.63,400.42ZM239.04,401.19L238.57,399.6L240.09,400.26ZM244.89,401.38L244.06,399.95L245.69,400.24ZM250.84,401.66L249.56,400.61L251.19,400.3ZM327.1,401.94L325.59,402.61L326.04,401.02ZM333.17,401.82L331.98,402.97L331.87,401.32ZM339.17,401.65L338.37,403.1L337.77,401.55ZM233.37,407.36L232.25,406.14L233.91,406.06ZM239.26,407.48L237.94,406.48L239.56,406.11ZM245.09,407.5L243.73,406.56L245.33,406.13ZM250.95,407.56L249.5,406.76L251.05,406.17ZM326.97,407.76L325.37,408.18L326.07,406.68ZM333.08,407.67L331.75,408.66L331.85,407.01ZM339.15,407.46L338.31,408.89L337.76,407.33ZM234.48,413.47L233.15,414.46L233.25,412.81ZM239.73,413.54L238.08,413.52L239.16,412.27ZM245.35,413.48L243.74,413.09L245.07,412.11ZM251.04,413.43L249.5,412.81L250.96,412.03ZM326.89,413.56L325.26,413.85L326.09,412.41ZM333.03,413.5L331.63,414.39L331.84,412.75ZM339.14,413.27L338.28,414.69L337.75,413.12ZM234.63,419.18L233.53,420.42L233.29,418.78ZM239.98,419.36L238.39,419.82L239.06,418.3ZM245.52,419.34L243.86,419.29L244.96,418.05ZM251.1,419.26L249.52,418.77L250.91,417.87ZM326.83,419.36L325.19,419.53L326.11,418.16ZM333,419.31L331.59,420.16L331.84,418.52ZM339.14,419.08L338.27,420.49L337.75,418.92ZM234.68,424.94L233.67,426.25L233.31,424.64ZM240.12,425.13L238.62,425.84L239.04,424.24ZM245.64,425.16L244,425.35L244.91,423.97ZM251.21,425.11L249.58,424.85L250.83,423.77ZM326.81,425.16L325.16,425.28L326.12,423.94ZM333.03,425.09L331.65,426L331.84,424.36ZM339.14,424.87L338.28,426.29L337.75,424.72ZM234.69,430.72L233.73,432.06L233.32,430.46ZM240.17,430.92L238.72,431.72L239.04,430.09ZM245.67,430.96L244.04,431.21L244.9,429.8ZM251.06,430.84L249.51,430.25L250.95,429.44ZM327.23,430.89L325.84,431.8L326.04,430.15ZM333.11,430.86L331.82,431.9L331.85,430.24ZM339.15,430.67L338.3,432.09L337.75,430.53ZM234.7,436.51L233.75,437.87L233.32,436.27ZM240.2,436.71L238.78,437.56L239.04,435.92ZM245.7,436.76L244.07,437.06L244.89,435.62ZM251.15,436.68L249.54,436.29L250.87,435.31ZM327.02,436.75L325.45,437.28L326.06,435.74ZM333.06,436.68L331.72,437.64L331.84,435.99ZM339.14,436.47L338.28,437.89L337.75,436.32ZM234.71,442.31L233.78,443.67L233.33,442.08ZM240.23,442.49L238.84,443.4L239.04,441.75ZM245.74,442.56L244.13,442.94L244.87,441.46ZM251.17,442.49L249.55,442.15L250.86,441.13ZM326.84,442.56L325.19,442.74L326.11,441.36ZM332.95,442.52L331.48,443.28L331.84,441.67ZM339.12,442.29L338.22,443.68L337.74,442.1ZM234.72,448.1L233.81,449.48L233.34,447.89ZM240.27,448.28L238.93,449.25L239.05,447.6ZM245.79,448.36L244.2,448.82L244.86,447.31ZM251.19,448.3L249.56,448L250.84,446.95ZM326.67,448.33L325.02,448.18L326.19,447.01ZM332.79,448.36L331.2,448.82L331.86,447.31ZM339.09,448.12L338.12,449.46L337.72,447.86ZM234.74,453.87L233.88,455.29L233.35,453.72ZM240.35,454.03L239.12,455.14L239.06,453.49ZM245.91,454.14L244.4,454.82L244.84,453.22ZM251.26,454.13L249.61,453.96L250.8,452.8ZM326.35,453.96L324.91,453.16L326.45,452.57ZM332.42,454.11L330.78,453.86L332.02,452.77ZM338.98,454.01L337.81,455.18L337.67,453.53ZM234.77,459.64L233.99,461.1L233.37,459.56ZM240.49,459.73L239.5,461.06L239.11,459.45ZM246.15,459.83L244.93,460.95L244.86,459.29ZM251.51,459.96L249.89,460.29L250.68,458.83ZM326.04,459.1L325.75,457.47L327.18,458.29ZM331.94,459.51L330.9,458.23L332.56,458.25ZM337.8,459.6L336.61,458.45L338.25,458.28ZM234.81,465.39L234.14,466.9L233.41,465.41ZM240.64,465.35L240.05,466.89L239.24,465.45ZM246.47,465.29L246,466.88L245.08,465.5ZM252.35,465.04L252.38,466.7L251.09,465.66ZM327.73,465.12L327.61,466.77L326.42,465.62ZM331.91,465.24L330.98,463.87L332.63,464.04ZM337.69,464.61L337.95,462.98L339.04,464.23ZM234.84,471.14L234.28,472.69L233.45,471.26ZM240.72,470.95L240.54,472.6L239.4,471.4ZM246.56,470.72L246.82,472.36L245.4,471.51ZM252.24,470.27L253.32,471.52L251.67,471.54ZM326.5,471.46L324.92,470.97L326.31,470.08ZM331.92,471.07L330.95,469.73L332.6,469.85ZM337.71,470.36L338.06,468.75L339.07,470.06ZM234.86,476.9L234.36,478.48L233.47,477.09ZM240.75,476.63L240.8,478.29L239.5,477.26ZM246.55,476.35L247.12,477.91L245.56,477.35ZM252.18,475.97L253.42,477.07L251.78,477.31ZM326.22,477.03L324.98,475.94L326.62,475.69ZM331.86,476.7L331.19,475.18L332.78,475.64ZM337.72,476.13L338.14,474.53L339.1,475.88ZM234.87,482.68L234.44,484.27L233.49,482.91ZM240.76,482.34L240.99,483.98L239.59,483.1ZM246.52,482.04L247.29,483.51L245.68,483.16ZM252.14,481.73L253.45,482.73L251.84,483.09ZM326.11,482.65L325.18,481.28L326.83,481.44ZM331.84,482.33L331.48,480.71L332.95,481.48ZM337.74,481.9L338.23,480.32L339.13,481.71ZM234.89,488.45L234.51,490.06L233.52,488.73ZM240.76,488.05L241.16,489.66L239.67,488.93ZM246.49,487.75L247.42,489.11L245.78,488.96ZM252.11,487.49L253.47,488.42L251.88,488.87ZM326.06,488.27L325.44,486.73L327.01,487.25ZM331.85,487.97L331.8,486.31L333.1,487.34ZM337.76,487.67L338.32,486.11L339.15,487.54ZM234.91,494.2L234.62,495.83L233.55,494.56ZM240.74,493.72L241.37,495.25L239.79,494.75ZM246.41,493.42L247.58,494.59L245.93,494.73ZM252.01,493.21L253.5,493.93L251.99,494.61ZM326.06,493.73L326.08,492.08L327.33,493.16ZM331.93,493.52L332.38,491.93L333.31,493.29ZM337.79,493.42L338.46,491.9L339.19,493.38ZM234.94,499.88L234.9,501.53L233.66,500.44ZM240.67,499.31L241.67,500.64L240.01,500.55ZM246.27,499.06L247.69,499.92L246.12,500.45ZM251.51,498.84L253.14,498.55L252.31,499.99ZM326.45,498.97L327.68,497.86L327.74,499.51ZM332.26,498.96L333.5,497.87L333.54,499.52ZM337.87,499.12L338.74,497.71L339.25,499.29ZM234.88,505.15L235.83,506.5L234.18,506.36ZM240.49,504.87L241.88,505.76L240.31,506.26ZM246.21,504.8L247.7,505.52L246.19,506.2ZM251.78,504.69L253.42,504.93L252.18,506.03ZM256.47,505.74L255.73,504.26L257.34,504.64ZM262.57,506.17L261.1,505.4L262.63,504.78ZM268.4,506.2L266.9,505.49L268.4,504.8ZM274.2,506.2L272.7,505.51L274.2,504.8ZM280.08,506.25L278.51,505.71L279.93,504.86ZM287.16,505.41L287.62,507L286.11,506.34ZM292.65,504.84L294.09,505.65L292.55,506.23ZM298.4,504.8L299.9,505.51L298.4,506.2ZM304.2,504.8L305.7,505.5L304.2,506.2ZM310,504.8L311.5,505.49L310,506.2ZM315.76,504.77L317.3,505.39L315.84,506.17ZM321.43,504.71L323.05,505.06L321.74,506.07ZM327.19,504.69L328.82,504.95L327.57,506.04ZM332.96,504.68L334.6,504.87L333.39,506.01ZM338.27,504.67L339.75,503.94L339.36,505.55Z" fill="#1c3444" opacity="0.75"/>
<rect x="254.2" y="391.7" width="31.8" height="34.5" fill="#b81e1f"/>
<rect x="254.2" y="391.7" width="31.8" height="0.8" fill="#e07a3a"/>
<rect x="254.2" y="391.7" width="0.9" height="34.5" fill="#a01a1a"/>
<rect x="287.6" y="391.7" width="32.6" height="34.5" fill="#3737c4"/>
<text x="260.3" y="405.1" font-size="6.7" fill="#f6eeee">D<tspan font-size="3.9" dy="1.4" fill="#e8dede">C,R</tspan></text>
<path d="M259.4,415.5 H263.8 V408.1 H269.3 V415.5 H273.3" fill="none" stroke="#f2dede" stroke-width="0.95"/>
<path d="M297.6,413.1 H304 V418.7" fill="none" stroke="#e2e2fa" stroke-width="1.0"/><path d="M300.2,418.3 H307.2 Q306,421.7 303.7,421.7 Q301.4,421.7 300.2,418.3 Z" fill="#e2e2fa"/>
<rect x="254.2" y="428.3" width="31.8" height="34.5" fill="#b81e1f"/>
<rect x="254.2" y="428.3" width="31.8" height="0.8" fill="#e07a3a"/>
<rect x="254.2" y="428.3" width="0.9" height="34.5" fill="#a01a1a"/>
<rect x="287.6" y="428.3" width="32.6" height="34.5" fill="#3737c4"/>
<text x="260.3" y="441.7" font-size="6.7" fill="#f6eeee">D<tspan font-size="3.9" dy="1.4" fill="#e8dede">C,R+1</tspan></text>
<path d="M259.4,452.1 H263.8 V444.7 H269.3 V452.1 H273.3" fill="none" stroke="#f2dede" stroke-width="0.95"/>
<path d="M297.6,449.7 H304 V455.3" fill="none" stroke="#e2e2fa" stroke-width="1.0"/><path d="M300.2,454.9 H307.2 Q306,458.3 303.7,458.3 Q301.4,458.3 300.2,454.9 Z" fill="#e2e2fa"/>
<rect x="254.2" y="464.9" width="31.8" height="34" fill="#3737c4"/>
<rect x="287.6" y="464.9" width="32.6" height="34" fill="#3737c4"/>
<text x="260.3" y="478.3" font-size="6.7" fill="#f6eeee">D<tspan font-size="3.9" dy="1.4" fill="#e8dede">C,R+2</tspan></text>
<path d="M261.8,483.5 H268.2 V489.1" fill="none" stroke="#e2e2fa" stroke-width="1.0"/><path d="M264.4,488.7 H271.4 Q270.2,492.1 267.9,492.1 Q265.6,492.1 264.4,488.7 Z" fill="#e2e2fa"/>
<path d="M297.6,486.3 H304 V491.9" fill="none" stroke="#e2e2fa" stroke-width="1.0"/><path d="M300.2,491.5 H307.2 Q306,494.9 303.7,494.9 Q301.4,494.9 300.2,491.5 Z" fill="#e2e2fa"/>
<line x1="231.9" y1="427.25" x2="340.4" y2="427.25" stroke="#1c3444" stroke-width="0.8" stroke-dasharray="2.4,1.6" opacity="0.9"/>
<line x1="231.9" y1="463.85" x2="340.4" y2="463.85" stroke="#1c3444" stroke-width="0.8" stroke-dasharray="2.4,1.6" opacity="0.9"/>
<line x1="286.8" y1="391.7" x2="286.8" y2="498.9" stroke="#b0f0e0" stroke-width="0.8" opacity="0.9"/>
<text x="289" y="375.4" font-size="9.2" fill="#333" text-anchor="middle">One positive</text>
<rect x="448.4" y="379.6" width="107.6" height="127.2" fill="#5878f4"/>
<path d="M450.26,384.37L450.94,380.83M455.33,384.05L457.47,381.15M460.8,383.73L463.6,381.47M466.34,383.29L469.66,381.91M472.02,382.83L475.58,382.37M477.8,382.65L481.4,382.55M483.6,382.61L487.2,382.59M489.4,382.6L493,382.6M495.2,382.59L498.8,382.61M501,382.58L504.6,382.62M506.8,382.59L510.4,382.61M512.6,382.59L516.2,382.61M518.4,382.59L522,382.61M524.2,382.54L527.8,382.66M530.01,382.37L533.59,382.83M535.89,382.03L539.31,383.17M541.77,381.85L545.03,383.35M547.67,381.65L550.73,383.55M554.33,380.93L555.67,384.27M452.35,387.96L448.85,388.84M457.4,389.9L455.4,386.9M462.34,390.19L462.06,386.61M467,389.89L469,386.91M472.03,388.71L475.57,388.09M477.8,388.46L481.4,388.34M483.6,388.41L487.2,388.39M489.4,388.4L493,388.4M495.2,388.38L498.8,388.42M501,388.33L504.6,388.47M506.8,388.39L510.4,388.41M512.6,388.39L516.2,388.41M518.4,388.39L522,388.41M524.2,388.34L527.8,388.46M530.03,388.05L533.57,388.75M536.48,386.99L538.72,389.81M542.55,386.81L544.25,389.99M548.47,386.75L549.93,390.05M554.8,386.61L555.2,390.19M451.53,392.66L449.67,395.74M458.2,394.14L454.6,394.26M463.85,394.92L460.55,393.48M539.06,393.15L536.14,395.25M543.98,392.5L542.82,395.9M549.32,392.4L549.08,396M555,392.4L555,396M451.18,398.3L450.02,401.7M457.93,399.05L454.87,400.95M463.97,399.68L460.43,400.32M539.34,399.53L535.86,400.47M544.65,398.71L542.15,401.29M549.81,398.31L548.59,401.69M555.11,398.2L554.89,401.8M451.01,404.05L450.19,407.55M457.64,404.49L455.16,407.11M463.83,405.04L460.57,406.56M539.37,405.46L535.83,406.14M544.85,404.74L541.95,406.86M550.04,404.21L548.36,407.39M555.17,404.01L554.83,407.59M450.91,409.83L450.29,413.37M457.41,410.11L455.39,413.09M463.69,410.58L460.71,412.62M539.38,411.32L535.82,411.88M544.93,410.66L541.87,412.54M550.14,410.06L548.26,413.14M555.19,409.81L554.81,413.39M450.82,415.61L450.38,419.19M457.17,415.77L455.63,419.03M463.48,416.13L460.92,418.67M539.39,417.2L535.81,417.6M544.98,416.54L541.82,418.26M550.18,415.89L548.22,418.91M555.2,415.61L554.8,419.19M450.67,421.4L450.53,425M456.68,421.42L456.12,424.98M462.77,421.49L461.63,424.91M539.11,424.17L536.09,422.23M544.99,422.35L541.81,424.05M550.15,421.67L548.25,424.73M555.2,421.41L554.8,424.99M450.51,427.2L450.69,430.8M456.05,427.23L456.75,430.77M461.48,427.35L462.92,430.65M539.08,427.98L536.12,430.02M544.7,427.75L542.1,430.25M550.09,427.44L548.31,430.56M555.19,427.21L554.81,430.79M450.39,433.01L450.81,436.59M455.63,433.17L457.17,436.43M460.91,433.55L463.49,436.05M539.37,434.45L535.83,435.15M544.89,433.79L541.91,435.81M550.16,433.28L548.24,436.32M555.21,433.01L554.79,436.59M450.31,438.82L450.89,442.38M455.44,439.08L457.36,442.12M460.74,439.55L463.66,441.65M539.38,440.36L535.82,440.84M545,439.78L541.8,441.42M550.3,439.18L548.1,442.02M555.25,438.82L554.75,442.38M450.28,444.63L450.92,448.17M455.37,444.93L457.43,447.87M460.69,445.42L463.71,447.38M539.39,446.23L535.81,446.57M545.09,445.78L541.71,447.02M550.48,445.13L547.92,447.67M555.31,444.63L554.69,448.17M450.27,450.43L450.93,453.97M455.33,450.75L457.47,453.65M460.66,451.26L463.74,453.14M539.4,452.21L535.8,452.19M545.19,452.01L541.61,452.39M550.81,451.39L547.59,453.01M555.55,450.49L554.45,453.91M450.26,456.23L450.94,459.77M455.31,456.57L457.49,459.43M460.65,457.09L463.75,458.91M539.14,458.94L536.06,457.06M545.13,458.51L541.67,457.49M551,458.13L547.4,457.87M556.8,458.13L553.2,457.87M450.25,462.03L450.95,465.57M455.29,462.38L457.51,465.22M460.65,462.88L463.75,464.72M538.86,462.52L536.34,465.08M545.2,463.79L541.6,463.81M550.79,464.65L547.61,462.95M555.55,465.51L554.45,462.09M450.23,467.84L450.97,471.36M455.26,468.21L457.54,470.99M460.63,468.73L463.77,470.47M539.4,469.63L535.8,469.57M545.15,470.02L541.65,469.18M550.56,470.78L547.84,468.42M555.35,471.37L554.65,467.83M450.2,473.65L451,477.15M455.19,474.07L457.61,476.73M460.59,474.6L463.81,476.2M539.39,475.58L535.81,475.22M545.07,476.08L541.73,474.72M550.41,476.74L547.99,474.06M555.28,477.18L554.72,473.62M450.1,479.47L451.1,482.93M455.03,480.03L457.77,482.37M460.51,480.58L463.89,481.82M539.38,481.46L535.82,480.94M544.97,482.07L541.83,480.33M550.25,482.67L548.15,479.73M555.23,482.99L554.77,479.41M449.87,485.36L451.33,488.64M454.75,486.27L458.05,487.73M460.41,486.81L463.99,487.19M539.36,487.38L535.84,486.62M544.81,488.11L541.99,485.89M550.03,488.6L548.37,485.4M555.17,488.79L554.83,485.21M449.19,491.68L452.01,493.92M454.63,493.1L458.17,492.5M460.56,493.55L463.84,492.05M539.2,493.62L536,491.98M544.3,494.36L542.5,491.24M549.6,494.56L548.8,491.04M555.07,494.6L554.93,491M449.33,499.87L451.87,497.33M455.48,500.15L457.32,497.05M461.91,500.38L462.49,496.82M468.84,500.19L467.16,497.01M475.58,498.83L472.02,498.37M481.4,498.64L477.8,498.56M487.2,498.61L483.6,498.59M493,498.59L489.4,498.61M498.79,498.41L495.21,498.79M501.78,497.12L503.82,500.08M506.8,498.53L510.4,498.67M512.6,498.6L516.2,498.6M518.4,498.61L522,498.59M524.2,498.64L527.8,498.56M530.02,498.89L533.58,498.31M536.75,500.19L538.45,497.01M542.86,500.32L543.94,496.88M548.75,500.34L549.65,496.86M554.88,500.4L555.12,496.8M450.35,506.18L450.85,502.62M457.23,506L455.57,502.8M463.6,505.53L460.8,503.27M469.68,505.05L466.32,503.75M475.59,504.58L472.01,504.22M481.4,504.44L477.8,504.36M487.2,504.41L483.6,504.39M493,504.39L489.4,504.41M498.8,504.27L495.2,504.53M501.31,503.39L504.29,505.41M506.8,504.34L510.4,504.46M512.6,504.4L516.2,504.4M518.4,504.41L522,504.39M524.2,504.44L527.8,504.36M530.01,504.6L533.59,504.2M535.9,504.98L539.3,503.82M541.77,505.17L545.03,503.63M547.69,505.39L550.71,503.41M554.38,506.09L555.62,502.71" stroke="#26309a" stroke-width="0.5" fill="none" stroke-linecap="round" opacity="0.5"/><path d="M450.01,381.98L450.98,380.64L451.38,382.24ZM456.14,381.78L457.59,380.99L457.26,382.62ZM462.15,381.74L463.75,381.34L463.03,382.83ZM468.19,381.76L469.85,381.83L468.73,383.06ZM474.21,381.84L475.78,382.34L474.39,383.23ZM480.08,381.89L481.6,382.54L480.12,383.28ZM485.9,381.9L487.4,382.59L485.9,383.3ZM491.7,381.9L493.2,382.6L491.7,383.3ZM497.5,381.9L499,382.61L497.5,383.3ZM503.31,381.91L504.8,382.62L503.29,383.31ZM509.1,381.9L510.6,382.61L509.1,383.3ZM514.9,381.9L516.4,382.61L514.9,383.3ZM520.71,381.9L522.2,382.61L520.69,383.3ZM526.52,381.92L528,382.66L526.48,383.32ZM532.38,381.97L533.78,382.85L532.21,383.36ZM538.3,382.1L539.5,383.24L537.85,383.42ZM544.15,382.17L545.22,383.44L543.56,383.44ZM549.99,382.27L550.9,383.66L549.25,383.46ZM555.84,382.81L555.74,384.46L554.53,383.32ZM450.29,389.2L448.66,388.89L449.94,387.84ZM455.54,388.37L455.29,386.73L456.71,387.6ZM461.46,387.96L462.04,386.41L462.86,387.85ZM467.7,387.59L469.11,386.74L468.86,388.38ZM474.17,387.62L475.77,388.05L474.41,389ZM480.08,387.68L481.6,388.33L480.12,389.08ZM485.9,387.7L487.4,388.39L485.9,389.1ZM491.7,387.7L493.2,388.4L491.7,389.1ZM497.51,387.71L499,388.42L497.49,389.11ZM503.33,387.72L504.8,388.48L503.27,389.12ZM509.1,387.7L510.6,388.41L509.1,389.1ZM514.9,387.7L516.4,388.41L514.9,389.1ZM520.71,387.7L522.2,388.41L520.69,389.1ZM526.52,387.72L528,388.47L526.48,389.12ZM532.43,387.81L533.76,388.78L532.16,389.18ZM538.46,388.35L538.85,389.96L537.37,389.23ZM544.25,388.51L544.35,390.16L543.02,389.17ZM550.04,388.58L550.01,390.23L548.76,389.14ZM555.75,388.82L555.22,390.39L554.36,388.98ZM450.94,394.99L449.57,395.91L449.74,394.27ZM455.92,394.92L454.4,394.27L455.88,393.52ZM461.46,394.64L460.37,393.4L462.02,393.36ZM537.6,395.06L535.97,395.36L536.79,393.92ZM543.9,394.9L542.76,396.09L542.58,394.45ZM549.87,394.74L549.07,396.2L548.47,394.65ZM555.7,394.7L555,396.2L554.3,394.7ZM451.1,400.7L449.96,401.89L449.78,400.25ZM456.35,400.86L454.7,401.06L455.6,399.67ZM461.83,400.78L460.23,400.36L461.58,399.4ZM537.3,400.81L535.67,400.52L536.94,399.45ZM543.56,400.85L542.01,401.44L542.55,399.87ZM549.69,400.71L548.52,401.88L548.37,400.23ZM555.67,400.54L554.88,402L554.27,400.46ZM451.17,406.45L450.14,407.75L449.8,406.13ZM456.57,406.64L455.03,407.25L455.55,405.68ZM462.04,406.65L460.39,406.65L461.45,405.38ZM537.24,406.58L535.64,406.17L536.98,405.21ZM543.41,406.66L541.79,406.98L542.58,405.53ZM549.59,406.57L548.27,407.57L548.35,405.92ZM555.65,406.36L554.81,407.79L554.26,406.23ZM451.2,412.21L450.26,413.57L449.82,411.97ZM456.7,412.41L455.28,413.26L455.54,411.62ZM462.18,412.46L460.55,412.73L461.39,411.3ZM537.21,412.37L535.62,411.91L537,410.99ZM543.34,412.46L541.7,412.65L542.61,411.27ZM549.54,412.39L548.16,413.31L548.34,411.66ZM555.64,412.17L554.79,413.59L554.25,412.02ZM451.23,417.98L450.36,419.39L449.84,417.81ZM456.82,418.15L455.55,419.21L455.55,417.55ZM462.34,418.25L460.78,418.81L461.35,417.26ZM537.18,418.15L535.61,417.62L537.03,416.76ZM543.29,418.25L541.64,418.35L542.63,417.02ZM549.52,418.2L548.12,419.08L548.34,417.44ZM555.64,417.98L554.78,419.39L554.25,417.82ZM451.28,423.73L450.52,425.2L449.88,423.67ZM457.01,423.8L456.09,425.18L455.63,423.59ZM462.71,423.89L461.57,425.1L461.38,423.45ZM536.8,423.52L535.92,422.12L537.56,422.34ZM543.29,424.05L541.64,424.14L542.63,422.82ZM549.53,423.99L548.15,424.9L548.34,423.26ZM555.64,423.77L554.78,425.19L554.25,423.62ZM451.32,429.46L450.7,431L449.93,429.53ZM457.18,429.36L456.79,430.96L455.81,429.63ZM463.04,429.18L463,430.83L461.76,429.74ZM537.58,429.86L535.95,430.13L536.79,428.71ZM543.53,429.85L541.96,430.39L542.55,428.84ZM549.56,429.78L548.21,430.74L548.34,429.09ZM555.64,429.57L554.78,430.99L554.25,429.42ZM451.35,435.21L450.84,436.79L449.96,435.38ZM457.25,434.95L457.25,436.61L455.98,435.55ZM463.05,434.64L463.64,436.19L462.07,435.65ZM537.25,435.58L535.64,435.19L536.97,434.21ZM543.38,435.66L541.74,435.92L542.59,434.5ZM549.52,435.6L548.13,436.49L548.34,434.85ZM555.64,435.38L554.77,436.79L554.25,435.22ZM451.37,440.98L450.92,442.57L449.99,441.2ZM457.26,440.65L457.47,442.29L456.07,441.4ZM463.01,440.32L463.82,441.77L462.2,441.46ZM537.2,441.36L535.62,440.87L537.01,439.97ZM543.27,441.45L541.62,441.51L542.64,440.2ZM549.45,441.42L547.98,442.18L548.34,440.57ZM555.62,441.19L554.73,442.58L554.24,441ZM451.38,446.77L450.95,448.37L450,447.01ZM457.26,446.41L457.55,448.04L456.11,447.21ZM463,446.08L463.88,447.49L462.24,447.26ZM537.17,447.14L535.61,446.58L537.04,445.75ZM543.17,447.23L541.52,447.09L542.69,445.92ZM549.34,447.25L547.78,447.81L548.35,446.25ZM555.6,447.01L554.65,448.37L554.22,446.77ZM451.38,452.56L450.97,454.17L450,452.82ZM457.26,452.18L457.59,453.81L456.14,453.02ZM462.99,451.86L463.91,453.24L462.26,453.06ZM537.1,452.9L535.6,452.19L537.1,451.5ZM542.98,452.95L541.41,452.41L542.83,451.56ZM549.07,453.05L547.41,453.1L548.44,451.8ZM555.51,452.89L554.39,454.1L554.18,452.46ZM451.38,458.36L450.98,459.96L450.01,458.62ZM457.26,457.97L457.61,459.59L456.15,458.82ZM462.99,457.65L463.92,459.02L462.28,458.86ZM536.81,458.34L535.89,456.96L537.54,457.14ZM542.72,458.53L541.48,457.43L543.12,457.19ZM548.65,458.66L547.21,457.85L548.75,457.26ZM554.45,458.66L553.01,457.86L554.55,457.27ZM451.38,464.15L450.99,465.76L450.01,464.43ZM457.26,463.76L457.63,465.38L456.15,464.62ZM462.99,463.45L463.92,464.82L462.27,464.66ZM537.75,464.65L536.2,465.22L536.75,463.66ZM542.9,464.5L541.4,463.81L542.9,463.1ZM548.43,464.18L547.43,462.86L549.09,462.95ZM554.18,463.54L554.39,461.9L555.51,463.11ZM451.39,469.95L451.01,471.56L450.02,470.23ZM457.26,469.54L457.67,471.14L456.18,470.43ZM462.98,469.23L463.95,470.57L462.3,470.45ZM537.09,470.29L535.6,469.57L537.11,468.89ZM542.75,470.16L541.46,469.13L543.08,468.8ZM548.36,469.8L547.69,468.29L549.28,468.74ZM554.22,469.24L554.61,467.64L555.59,468.97ZM451.39,475.73L451.05,477.35L450.03,476.04ZM457.25,475.3L457.75,476.88L456.22,476.24ZM462.96,474.99L463.99,476.29L462.34,476.25ZM537.03,476.05L535.61,475.2L537.17,474.65ZM542.67,475.86L541.55,474.64L543.2,474.56ZM548.35,475.5L547.86,473.92L549.38,474.56ZM554.23,475.02L554.69,473.42L555.61,474.8ZM451.41,481.49L451.15,483.12L450.06,481.87ZM457.23,480.99L457.92,482.5L456.33,482.06ZM462.91,480.71L464.08,481.89L462.43,482.03ZM537,481.82L535.62,480.91L537.21,480.43ZM542.62,481.57L541.65,480.23L543.3,480.35ZM548.34,481.2L548.04,479.57L549.48,480.39ZM554.24,480.79L554.74,479.22L555.63,480.61ZM451.44,487.17L451.42,488.83L450.16,487.74ZM457.14,486.56L458.23,487.81L456.57,487.84ZM462.77,486.36L464.19,487.21L462.62,487.75ZM536.96,487.58L535.64,486.58L537.26,486.21ZM542.57,487.24L541.83,485.76L543.44,486.14ZM548.35,486.88L548.28,485.22L549.59,486.23ZM554.26,486.57L554.81,485.01L555.65,486.44ZM451.43,492.56L452.17,494.04L450.56,493.66ZM456.78,492.03L458.37,492.47L457.01,493.41ZM462.36,491.96L464.02,491.97L462.95,493.23ZM536.84,493.2L535.82,491.89L537.47,491.95ZM542.54,492.72L542.4,491.07L543.76,492.02ZM548.41,492.47L548.76,490.85L549.77,492.16ZM554.28,492.33L554.92,490.8L555.68,492.27ZM450.46,497.75L452.01,497.18L451.45,498.74ZM456.05,497.81L457.42,496.88L457.26,498.53ZM461.59,497.99L462.52,496.63L462.97,498.22ZM467.15,498.48L467.07,496.83L468.39,497.83ZM473.21,499.23L471.82,498.34L473.4,497.84ZM479.09,499.29L477.6,498.56L479.11,497.89ZM484.9,499.3L483.4,498.59L484.9,497.9ZM490.7,499.3L489.2,498.61L490.7,497.9ZM496.58,499.35L495.01,498.81L496.43,497.96ZM503.66,498.62L503.93,500.25L502.51,499.41ZM509.13,497.92L510.6,498.68L509.07,499.32ZM514.9,497.9L516.4,498.6L514.9,499.3ZM520.7,497.9L522.2,498.59L520.7,499.3ZM526.48,497.89L528,498.55L526.52,499.29ZM532.18,497.83L533.77,498.28L532.41,499.21ZM537.22,497.83L538.54,496.84L538.45,498.49ZM542.88,497.91L544,496.69L544.22,498.33ZM548.65,497.94L549.7,496.66L550,498.29ZM554.33,498.06L555.13,496.6L555.73,498.15ZM449.98,503.81L450.88,502.42L451.36,504ZM455.55,504.28L455.47,502.63L456.79,503.63ZM461.37,504.63L460.64,503.14L462.25,503.54ZM467.28,504.87L466.13,503.68L467.79,503.57ZM473.23,505.05L471.81,504.2L473.37,503.65ZM479.09,505.09L477.6,504.36L479.11,503.69ZM484.9,505.1L483.4,504.39L484.9,503.7ZM490.7,505.1L489.2,504.41L490.7,503.7ZM496.55,505.13L495,504.54L496.45,503.74ZM503.61,504.1L504.46,505.52L502.82,505.26ZM509.12,503.72L510.6,504.46L509.08,505.12ZM514.9,503.7L516.4,504.4L514.9,505.1ZM520.7,503.7L522.2,504.39L520.7,505.1ZM526.48,503.69L528,504.35L526.52,505.09ZM532.22,503.65L533.79,504.18L532.37,505.04ZM537.85,503.58L539.49,503.75L538.3,504.9ZM543.55,503.55L545.21,503.54L544.15,504.82ZM549.23,503.54L550.87,503.3L550,504.71ZM554.52,503.69L555.69,502.52L555.83,504.17Z" fill="#26309a" opacity="0.5"/>
<rect x="468.7" y="391.5" width="33" height="33.3" fill="#b81e1f"/>
<rect x="468.7" y="391.5" width="33" height="0.8" fill="#e07a3a"/>
<rect x="468.7" y="391.5" width="0.9" height="33.3" fill="#a01a1a"/>
<rect x="502.6" y="391.5" width="33.4" height="33.3" fill="#3737c4"/>
<text x="474.8" y="404.9" font-size="6.7" fill="#f6eeee">D<tspan font-size="3.9" dy="1.4" fill="#e8dede">C,R</tspan></text>
<path d="M473.9,415.3 H478.3 V407.9 H483.8 V415.3 H487.8" fill="none" stroke="#f2dede" stroke-width="0.95"/>
<path d="M512.6,412.9 H519 V418.5" fill="none" stroke="#e2e2fa" stroke-width="1.0"/><path d="M515.2,418.1 H522.2 Q521,421.5 518.7,421.5 Q516.4,421.5 515.2,418.1 Z" fill="#e2e2fa"/>
<rect x="468.7" y="426.5" width="33" height="34" fill="#3737c4"/>
<rect x="502.6" y="426.5" width="33.4" height="34" fill="#3737c4"/>
<text x="474.8" y="439.9" font-size="6.7" fill="#f6eeee">D<tspan font-size="3.9" dy="1.4" fill="#e8dede">C,R+1</tspan></text>
<path d="M476.3,445.1 H482.7 V450.7" fill="none" stroke="#e2e2fa" stroke-width="1.0"/><path d="M478.9,450.3 H485.9 Q484.7,453.7 482.4,453.7 Q480.1,453.7 478.9,450.3 Z" fill="#e2e2fa"/>
<path d="M512.6,447.9 H519 V453.5" fill="none" stroke="#e2e2fa" stroke-width="1.0"/><path d="M515.2,453.1 H522.2 Q521,456.5 518.7,456.5 Q516.4,456.5 515.2,453.1 Z" fill="#e2e2fa"/>
<rect x="468.7" y="462.3" width="33" height="34" fill="#3737c4"/>
<rect x="502.6" y="462.3" width="33.4" height="34" fill="#3737c4"/>
<text x="474.8" y="475.7" font-size="6.7" fill="#f6eeee">D<tspan font-size="3.9" dy="1.4" fill="#e8dede">C,R+2</tspan></text>
<path d="M476.3,480.9 H482.7 V486.5" fill="none" stroke="#e2e2fa" stroke-width="1.0"/><path d="M478.9,486.1 H485.9 Q484.7,489.5 482.4,489.5 Q480.1,489.5 478.9,486.1 Z" fill="#e2e2fa"/>
<path d="M512.6,483.7 H519 V489.3" fill="none" stroke="#e2e2fa" stroke-width="1.0"/><path d="M515.2,488.9 H522.2 Q521,492.3 518.7,492.3 Q516.4,492.3 515.2,488.9 Z" fill="#e2e2fa"/>
<line x1="448.4" y1="425.65" x2="556" y2="425.65" stroke="#26309a" stroke-width="0.8" stroke-dasharray="2.4,1.6" opacity="0.9"/>
<line x1="448.4" y1="461.4" x2="556" y2="461.4" stroke="#26309a" stroke-width="0.8" stroke-dasharray="2.4,1.6" opacity="0.9"/>
<line x1="502.15" y1="391.5" x2="502.15" y2="496.3" stroke="#5c6ee0" stroke-width="0.8" opacity="0.9"/>
<text x="506.5" y="375.4" font-size="9.2" fill="#333" text-anchor="middle">All ground</text>
<rect x="136.8" y="398" width="13.2" height="104.2" fill="#bb2020"/>
<rect x="148.2" y="398" width="2.3" height="104.2" fill="#a01818"/>
<rect x="149.8" y="398" width="18.5" height="104.2" fill="url(#g1a)"/>
<rect x="167.6" y="398" width="17.7" height="104.2" fill="#b1f7d8"/>
<rect x="184.6" y="398" width="18.3" height="104.2" fill="url(#g1b)"/>
<rect x="202.2" y="398" width="13.7" height="104.2" fill="#3a3ac6"/>
<rect x="201.8" y="398" width="1.5" height="104.2" fill="#2a2a90"/>
<line x1="167.6" y1="389" x2="167.6" y2="504.7" stroke="#1a1a2a" stroke-width="0.9" stroke-dasharray="3.2,2"/>
<line x1="184.6" y1="389" x2="184.6" y2="504.7" stroke="#1a1a2a" stroke-width="0.9" stroke-dasharray="3.2,2"/>
<line x1="157.6" y1="394" x2="165.6" y2="394" stroke="#111" stroke-width="1"/>
<path d="M166.8,394 l-3.4,-2 v4 z" fill="#111"/>
<line x1="186.6" y1="394" x2="195.6" y2="394" stroke="#111" stroke-width="1"/>
<path d="M185.4,394 l3.4,-2 v4 z" fill="#111"/>
<text x="139.6" y="455.4" font-size="7.6" fill="#f3dede">Pd</text>
<text x="204.9" y="455.4" font-size="7.6" fill="#dde">Pd</text>
<text x="177.4" y="375.3" font-size="9.1" fill="#333" text-anchor="middle">NNO substrate</text>
<text x="177.4" y="385.6" font-size="9.1" fill="#333" text-anchor="middle">(2.5 V)</text>
<rect x="350" y="397" width="13.7" height="104.7" fill="#bb2020"/>
<rect x="361.8" y="397" width="2.3" height="104.7" fill="#a01818"/>
<rect x="363.4" y="397" width="18.2" height="104.7" fill="url(#g2a)"/>
<rect x="380.9" y="397" width="15.8" height="104.7" fill="#7ccaf8"/>
<rect x="396" y="397" width="17.2" height="104.7" fill="url(#g2b)"/>
<rect x="412.5" y="397" width="16.6" height="104.7" fill="#3a3ac6"/>
<rect x="412.1" y="397" width="1.5" height="104.7" fill="#2e2e98"/>
<line x1="380.9" y1="388" x2="380.9" y2="504.2" stroke="#1a1a2a" stroke-width="0.9" stroke-dasharray="3.2,2"/>
<line x1="396" y1="388" x2="396" y2="504.2" stroke="#1a1a2a" stroke-width="0.9" stroke-dasharray="3.2,2"/>
<line x1="370.9" y1="393" x2="378.9" y2="393" stroke="#111" stroke-width="1"/>
<path d="M380.1,393 l-3.4,-2 v4 z" fill="#111"/>
<line x1="398" y1="393" x2="407" y2="393" stroke="#111" stroke-width="1"/>
<path d="M396.8,393 l3.4,-2 v4 z" fill="#111"/>
<text x="352.8" y="455.4" font-size="7.6" fill="#f3dede">Pd</text>
<text x="418.1" y="455.4" font-size="7.6" fill="#dde">Pd</text>
<text x="391.4" y="375.3" font-size="9.1" fill="#333" text-anchor="middle">NNO substrate</text>
<text x="391.4" y="385.6" font-size="9.1" fill="#333" text-anchor="middle">(1.7 V)</text>
<rect x="565.6" y="396.2" width="13.1" height="105.8" fill="#bb2020"/>
<rect x="576.8" y="396.2" width="2.3" height="105.8" fill="#a01818"/>
<rect x="578.4" y="396.2" width="18.7" height="105.8" fill="url(#g3a)"/>
<rect x="596.4" y="396.2" width="16.8" height="105.8" fill="#4a56ee"/>
<rect x="612.5" y="396.2" width="10.7" height="105.8" fill="#4446dc"/>
<rect x="622.5" y="396.2" width="10.8" height="105.8" fill="#3d3ecd"/>
<rect x="632.6" y="396.2" width="11.9" height="105.8" fill="#3838c4"/>
<rect x="632.2" y="396.2" width="1.5" height="105.8" fill="#2e2e98"/>
<line x1="596.4" y1="387.2" x2="596.4" y2="504.5" stroke="#1a1a2a" stroke-width="0.9" stroke-dasharray="3.2,2"/>
<line x1="612.5" y1="387.2" x2="612.5" y2="504.5" stroke="#1a1a2a" stroke-width="0.9" stroke-dasharray="3.2,2"/>
<line x1="586.4" y1="392.2" x2="594.4" y2="392.2" stroke="#111" stroke-width="1"/>
<path d="M595.6,392.2 l-3.4,-2 v4 z" fill="#111"/>
<line x1="614.5" y1="392.2" x2="623.5" y2="392.2" stroke="#111" stroke-width="1"/>
<path d="M613.3,392.2 l3.4,-2 v4 z" fill="#111"/>
<text x="568.4" y="455.4" font-size="7.6" fill="#f3dede">Pd</text>
<text x="633.5" y="455.4" font-size="7.6" fill="#dde">Pd</text>
<text x="603" y="375.3" font-size="9.1" fill="#333" text-anchor="middle">NNO substrate</text>
<text x="603" y="385.6" font-size="9.1" fill="#333" text-anchor="middle">(0.8 V)</text>
<rect x="69.6" y="402.2" width="5" height="15" fill="none" stroke="#fff" stroke-width="0.7" stroke-dasharray="1.3,0.9"/>
<line x1="74.6" y1="402.2" x2="136.8" y2="398" stroke="#111" stroke-width="0.8" stroke-dasharray="2.2,1.2"/>
<line x1="73.6" y1="417.2" x2="136.8" y2="502.2" stroke="#111" stroke-width="0.8"/>
<rect x="285.1" y="401.2" width="4.9" height="15.2" fill="none" stroke="#fff" stroke-width="0.7" stroke-dasharray="1.3,0.9"/>
<line x1="290" y1="401.2" x2="350" y2="397" stroke="#111" stroke-width="0.8" stroke-dasharray="2.2,1.2"/>
<line x1="289" y1="416.4" x2="350" y2="501.7" stroke="#111" stroke-width="0.8"/>
<rect x="499.4" y="400.6" width="4.2" height="15.1" fill="none" stroke="#fff" stroke-width="0.7" stroke-dasharray="1.3,0.9"/>
<line x1="503.6" y1="400.6" x2="565.6" y2="396.2" stroke="#111" stroke-width="0.8" stroke-dasharray="2.2,1.2"/>
<line x1="502.6" y1="415.7" x2="565.6" y2="502" stroke="#111" stroke-width="0.8"/>
<rect x="657.6" y="386.3" width="8.8" height="118.6" fill="url(#gcb)" stroke="#444" stroke-width="0.4"/>
<line x1="664.6" y1="386.9" x2="666.4" y2="386.9" stroke="#333" stroke-width="0.6"/>
<text x="668.6" y="389.7" font-size="7.7" fill="#333">5</text>
<line x1="664.6" y1="410.3" x2="666.4" y2="410.3" stroke="#333" stroke-width="0.6"/>
<text x="668.6" y="413.1" font-size="7.7" fill="#333">4</text>
<line x1="664.6" y1="433.7" x2="666.4" y2="433.7" stroke="#333" stroke-width="0.6"/>
<text x="668.6" y="436.5" font-size="7.7" fill="#333">3</text>
<line x1="664.6" y1="457.1" x2="666.4" y2="457.1" stroke="#333" stroke-width="0.6"/>
<text x="668.6" y="459.9" font-size="7.7" fill="#333">2</text>
<line x1="664.6" y1="480.5" x2="666.4" y2="480.5" stroke="#333" stroke-width="0.6"/>
<text x="668.6" y="483.3" font-size="7.7" fill="#333">1</text>
<line x1="664.6" y1="503.9" x2="666.4" y2="503.9" stroke="#333" stroke-width="0.6"/>
<text x="668.6" y="506.7" font-size="7.7" fill="#333">0</text>
<text x="659.5" y="372.2" font-size="9" fill="#333" text-anchor="middle">Voltage</text>
<text x="636.2" y="382.8" font-size="9" fill="#333">potential (V)</text>
<text x="10.1" y="369.5" font-size="12" font-weight="bold" fill="#111" stroke="#111" stroke-width="0.35">g</text>
</svg></body></html>
